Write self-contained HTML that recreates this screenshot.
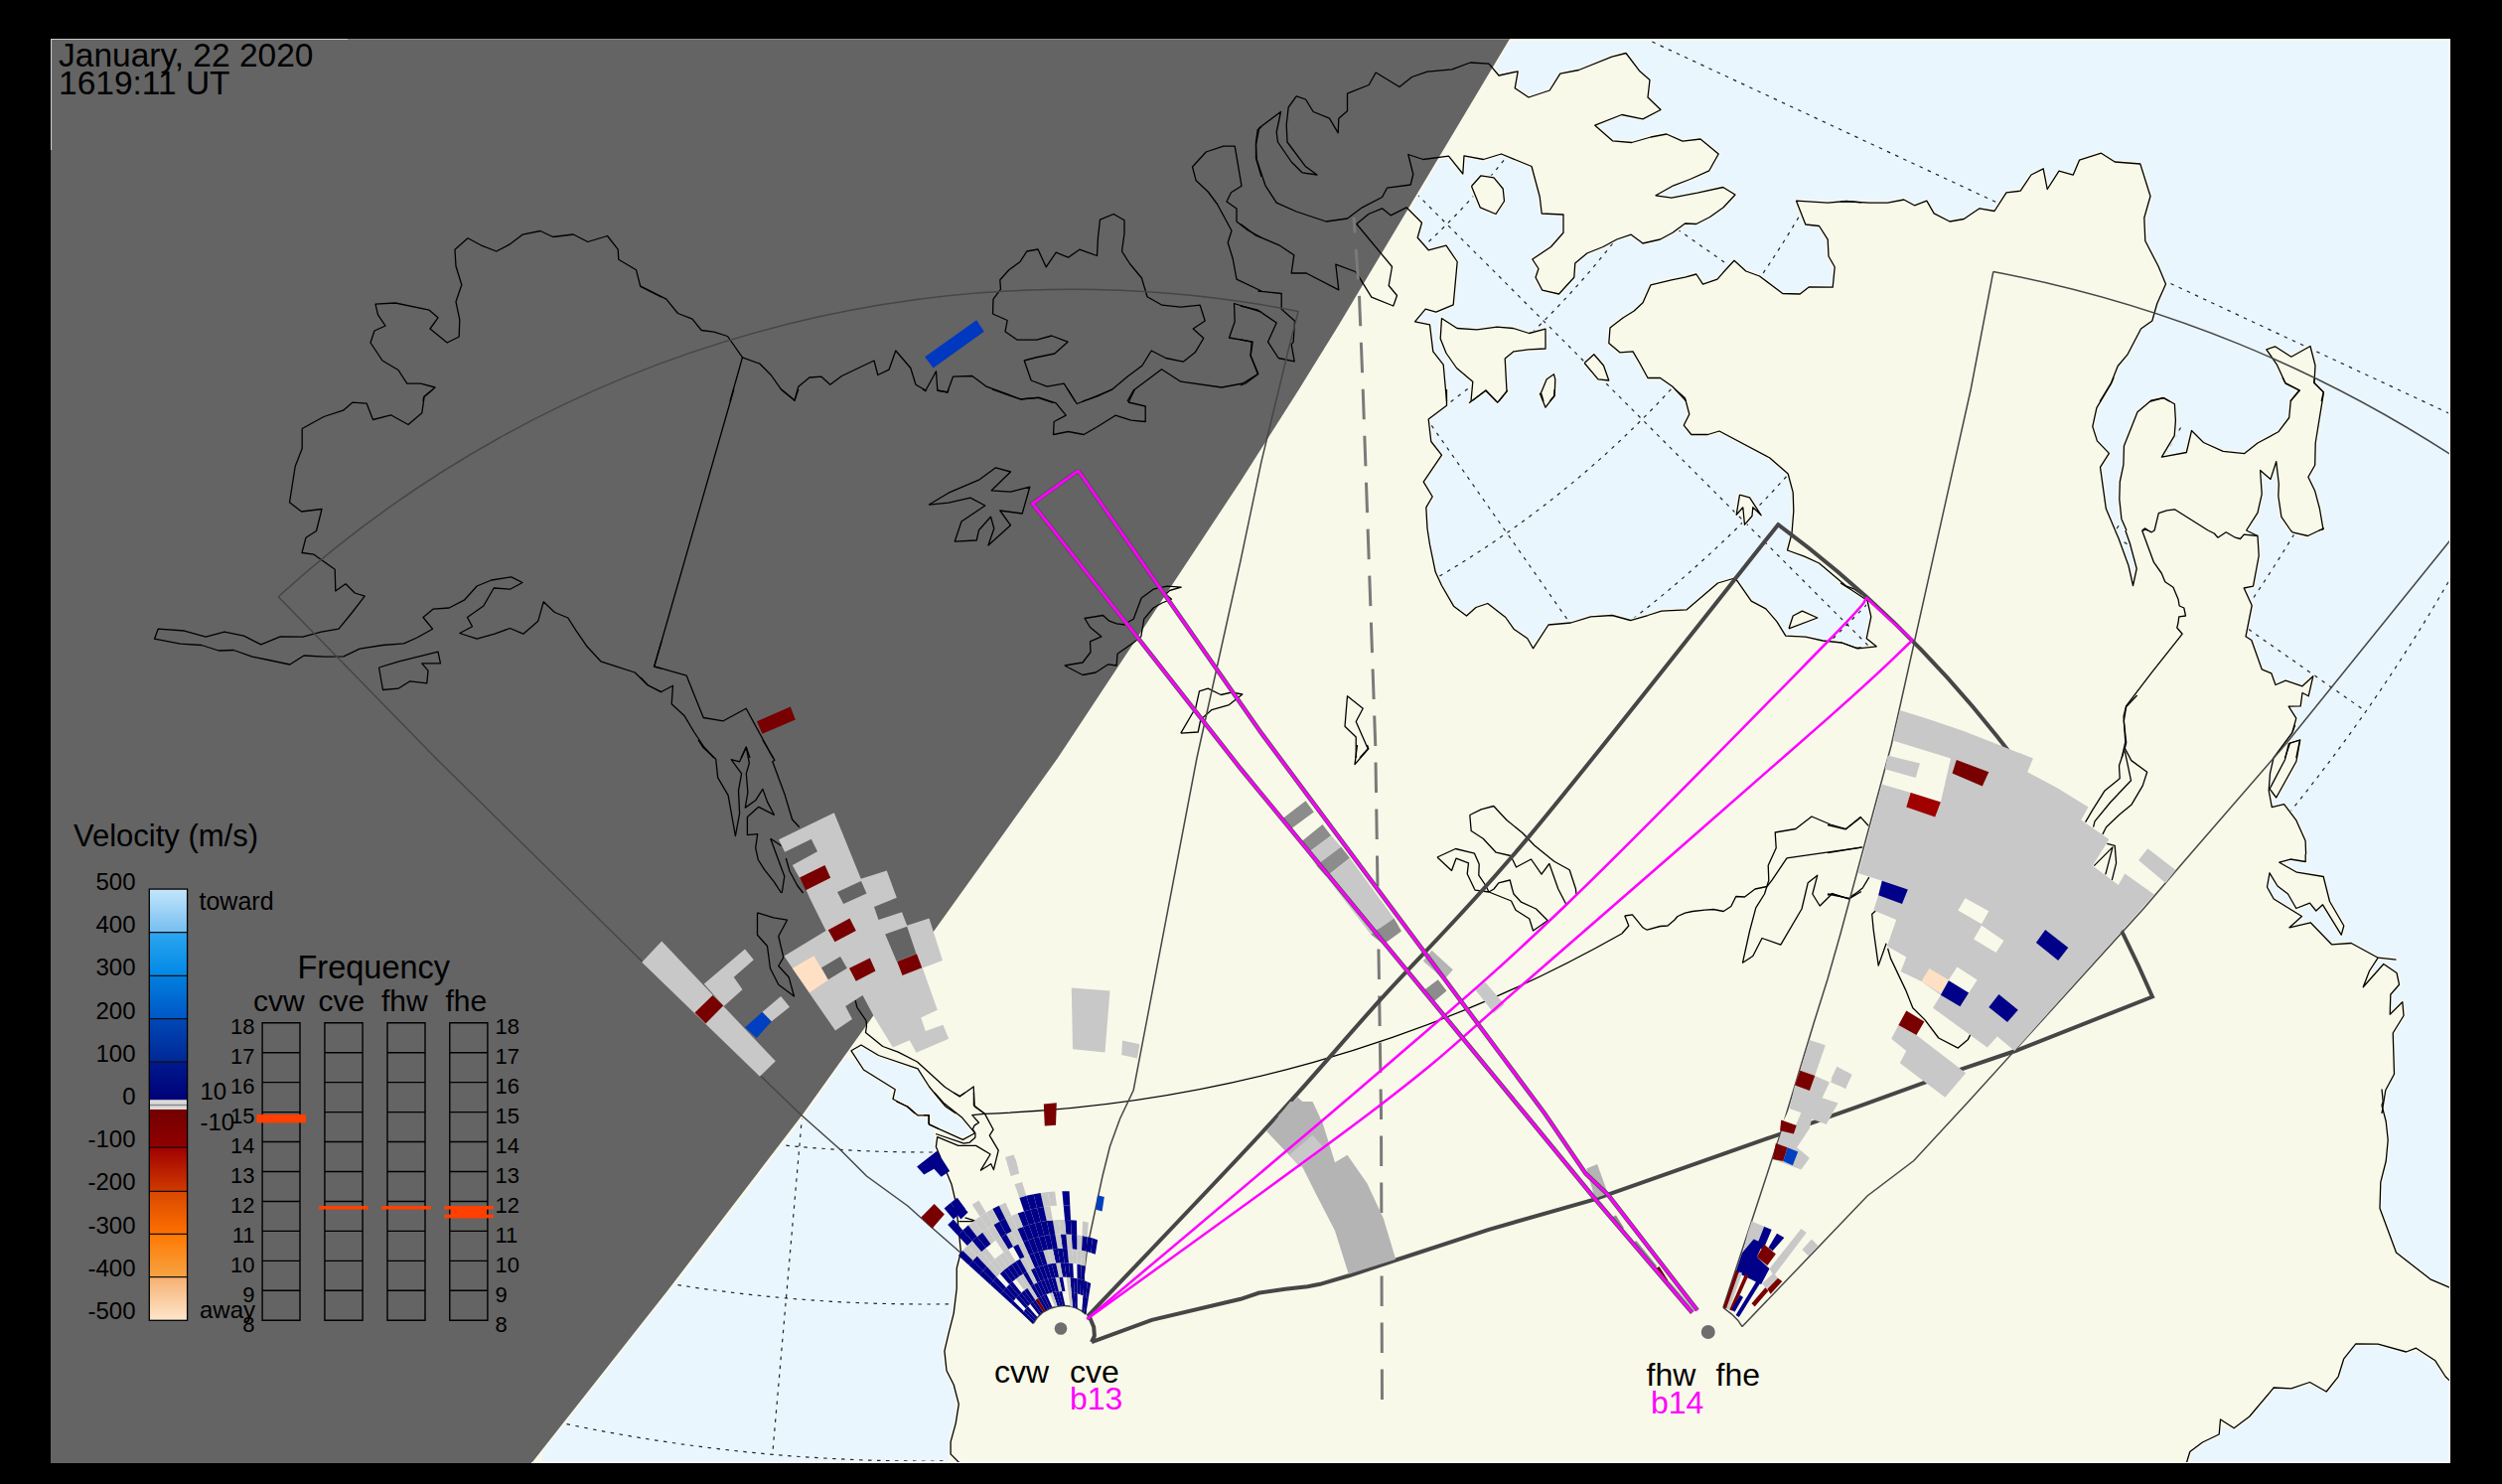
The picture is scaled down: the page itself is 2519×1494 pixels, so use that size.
<!DOCTYPE html><html><head><meta charset="utf-8"><style>html,body{margin:0;padding:0;background:#000;overflow:hidden}svg{display:block}</style></head><body>
<svg xmlns="http://www.w3.org/2000/svg" width="2519" height="1494" viewBox="0 0 2519 1494" font-family="Liberation Sans, sans-serif">
<rect width="2519" height="1494" fill="#000"/>
<defs><clipPath id="mc"><rect x="51" y="39" width="2416" height="1434"/></clipPath></defs>
<g clip-path="url(#mc)">
<rect x="51" y="39" width="2416" height="1434" fill="#f9f9ea"/>
<clipPath id="oc"><path clip-rule="evenodd" d="M2465 1391 2460 1387 2452 1373 2435 1361 2427 1361 2424 1363 2421 1363 2395 1355 2372 1355 2362 1367 2357 1382 2357 1385 2343 1403 2328 1395 2320 1395 2307 1400 2290 1399 2266 1428 2250 1440 2245 1437 2237 1437 2235 1446 2219 1453 2206 1463 2206 1471 2465 1471Z M933 1125 923 1125 912 1115 902 1111 901 1109 899 1109 897 1107 897 1096 869 1079 866 1076 860 1065 851 1065 811 1122 706 1259 546 1462 546 1471 955 1471 955 1450 959 1439 962 1424 962 1407 959 1395 951 1380 949 1358 959 1319 959 1312 961 1303 961 1276 965 1263 965 1254 964 1253 961 1213 957 1199 957 1195 952 1183 947 1182 945 1180 945 1165 941 1157 940 1136 933 1132Z M862 1057 862 1062 871 1076 903 1096 902 1106 916 1113 924 1121 936 1121 938 1123 938 1131 950 1137 952 1137 966 1144 972 1144 976 1142 976 1137 967 1126 950 1115 932 1093 925 1080 922 1077 885 1065 870 1056 863 1056Z M2286 887 2285 888 2285 895 2289 902 2302 911 2307 912 2307 909 2303 902 2293 895 2288 887Z M1521 41 1506 66 1506 70 1509 73 1515 73 1528 70 1530 72 1528 88 1538 95 1543 95 1558 90 1571 72 1589 69 1622 55 1633 52 1638 52 1650 68 1663 80 1661 97 1674 111 1654 122 1638 118 1631 118 1611 126 1611 128 1624 140 1632 140 1633 141 1645 141 1660 136 1676 133 1681 134 1693 140 1713 138 1732 154 1732 156 1723 172 1721 174 1702 183 1699 183 1684 189 1677 193 1676 196 1678 197 1687 197 1731 187 1736 187 1749 195 1749 197 1736 211 1726 217 1722 221 1720 221 1708 228 1707 227 1697 227 1687 235 1672 243 1653 247 1645 240 1639 239 1627 243 1614 251 1598 257 1588 266 1586 281 1570 298 1552 294 1544 280 1546 274 1546 269 1542 264 1541 260 1561 247 1572 234 1572 218 1552 217 1550 215 1548 196 1542 177 1541 170 1539 168 1514 158 1507 158 1494 163 1483 160 1476 160 1475 175 1472 177 1458 160 1450 160 1421 209 1421 211 1434 224 1431 232 1430 240 1438 249 1443 249 1456 245 1469 263 1465 308 1447 316 1435 314 1429 321 1429 323 1438 324 1442 327 1444 351 1445 354 1455 366 1457 390 1459 392 1459 408 1441 422 1441 433 1442 434 1443 445 1454 458 1436 484 1436 487 1444 499 1444 502 1438 511 1438 523 1439 524 1439 535 1446 572 1453 589 1466 610 1474 616 1478 616 1487 609 1492 608 1495 606 1499 606 1517 620 1522 628 1527 633 1538 640 1542 647 1545 647 1558 627 1582 625 1599 619 1605 619 1606 618 1627 618 1639 622 1644 622 1672 613 1698 612 1729 585 1747 580 1752 585 1765 604 1780 612 1791 625 1799 638 1819 639 1834 643 1855 645 1867 650 1881 650 1881 647 1877 643 1881 627 1881 616 1878 605 1852 589 1851 586 1830 568 1798 555 1798 551 1802 539 1803 518 1804 517 1803 494 1799 478 1780 462 1733 437 1727 437 1720 440 1703 440 1693 429 1698 419 1698 413 1696 405 1681 389 1672 383 1659 383 1655 378 1643 356 1630 357 1618 346 1619 329 1633 318 1645 311 1653 303 1653 301 1661 285 1680 280 1695 278 1706 274 1709 274 1715 283 1719 283 1729 279 1746 260 1758 271 1772 276 1795 294 1812 294 1821 287 1843 287 1844 286 1845 269 1839 259 1838 241 1830 229 1818 228 1815 225 1807 205 1807 202 1809 200 1828 201 1829 202 1848 202 1849 201 1903 202 1917 199 1926 204 1930 204 1940 200 1948 213 1963 221 1965 221 1966 220 1977 219 1992 208 2007 210 2019 192 2033 190 2044 174 2046 174 2056 168 2060 172 2062 183 2064 183 2073 170 2081 173 2087 173 2089 166 2093 159 2115 152 2129 161 2148 162 2149 163 2155 163 2157 165 2167 196 2166 203 2161 218 2162 243 2175 267 2177 274 2183 286 2173 307 2169 323 2156 333 2144 358 2134 369 2128 386 2113 411 2109 427 2109 431 2113 443 2126 457 2117 470 2117 477 2118 478 2122 512 2138 549 2140 557 2145 568 2146 575 2149 575 2149 571 2143 548 2138 535 2138 532 2133 520 2132 484 2136 470 2136 450 2150 414 2165 401 2174 399 2180 399 2191 406 2192 423 2193 424 2192 425 2192 435 2191 440 2182 454 2182 457 2200 454 2204 434 2206 432 2219 444 2221 444 2237 452 2249 453 2250 454 2260 454 2272 444 2287 437 2294 432 2303 420 2304 403 2311 395 2311 393 2299 387 2290 366 2283 357 2280 351 2282 349 2291 347 2303 355 2309 356 2324 347 2328 348 2333 366 2332 385 2342 395 2341 396 2341 401 2336 426 2336 432 2333 445 2333 469 2327 479 2327 483 2333 494 2334 501 2336 505 2341 533 2339 535 2328 539 2324 542 2308 538 2304 535 2296 523 2294 517 2293 505 2292 504 2292 481 2291 479 2289 479 2287 484 2285 484 2280 479 2278 479 2279 501 2277 506 2277 510 2274 519 2265 532 2265 534 2267 534 2275 539 2276 563 2272 580 2271 590 2269 592 2263 593 2264 599 2269 608 2269 613 2264 634 2264 640 2269 644 2278 671 2289 677 2292 686 2296 686 2302 683 2315 688 2318 688 2328 679 2331 681 2326 701 2324 703 2319 702 2319 709 2316 713 2309 713 2309 716 2314 724 2311 736 2306 743 2306 745 2310 745 2314 743 2316 743 2318 745 2314 767 2296 800 2292 805 2288 804 2288 808 2289 810 2300 808 2314 825 2323 845 2323 859 2324 860 2323 861 2323 868 2321 870 2315 868 2305 867 2302 868 2302 870 2315 877 2339 880 2341 882 2347 907 2362 931 2360 940 2358 943 2356 943 2340 916 2336 915 2331 919 2325 912 2314 916 2314 918 2318 920 2320 923 2315 927 2315 929 2327 927 2348 949 2351 948 2369 948 2394 962 2413 964 2415 966 2413 968 2395 967 2389 975 2389 978 2391 978 2399 969 2401 969 2415 979 2418 991 2409 1001 2408 1015 2410 1015 2419 1007 2421 1009 2421 1016 2422 1017 2422 1023 2411 1041 2412 1080 2413 1081 2404 1097 2401 1113 2401 1117 2405 1132 2406 1155 2405 1156 2404 1171 2399 1188 2398 1217 2414 1260 2447 1286 2465 1293 2465 41Z M1832 622 1828 625 1815 629 1801 635 1799 633 1803 620 1814 613 1822 616Z M1752 496 1762 499 1775 518 1773 521 1768 516 1766 516 1766 520 1757 530 1754 528 1754 519 1751 518 1748 520 1746 518 1749 499Z M1565 375 1567 377 1568 382 1567 399 1557 412 1555 412 1548 396 1552 390 1555 381Z M1604 355 1606 355 1617 368 1617 371 1622 383 1620 385 1609 384 1593 366Z M1449 321 1451 319 1453 319 1468 329 1489 330 1490 329 1510 327 1511 328 1523 328 1537 333 1543 333 1556 329 1558 331 1558 351 1556 353 1526 355 1517 362 1518 366 1518 384 1520 394 1509 407 1507 407 1497 397 1494 397 1479 408 1477 405 1479 403 1480 398 1480 384 1463 369 1453 354 1448 341Z M1490 175 1505 177 1515 189 1516 202 1517 203 1506 218 1492 212 1488 209 1480 190 1480 186Z"/></clipPath>
<path fill="#eaf6fe" fill-rule="evenodd" d="M2465 1391 2460 1387 2452 1373 2435 1361 2427 1361 2424 1363 2421 1363 2395 1355 2372 1355 2362 1367 2357 1382 2357 1385 2343 1403 2328 1395 2320 1395 2307 1400 2290 1399 2266 1428 2250 1440 2245 1437 2237 1437 2235 1446 2219 1453 2206 1463 2206 1471 2465 1471Z M933 1125 923 1125 912 1115 902 1111 901 1109 899 1109 897 1107 897 1096 869 1079 866 1076 860 1065 851 1065 811 1122 706 1259 546 1462 546 1471 955 1471 955 1450 959 1439 962 1424 962 1407 959 1395 951 1380 949 1358 959 1319 959 1312 961 1303 961 1276 965 1263 965 1254 964 1253 961 1213 957 1199 957 1195 952 1183 947 1182 945 1180 945 1165 941 1157 940 1136 933 1132Z M862 1057 862 1062 871 1076 903 1096 902 1106 916 1113 924 1121 936 1121 938 1123 938 1131 950 1137 952 1137 966 1144 972 1144 976 1142 976 1137 967 1126 950 1115 932 1093 925 1080 922 1077 885 1065 870 1056 863 1056Z M2286 887 2285 888 2285 895 2289 902 2302 911 2307 912 2307 909 2303 902 2293 895 2288 887Z M1521 41 1506 66 1506 70 1509 73 1515 73 1528 70 1530 72 1528 88 1538 95 1543 95 1558 90 1571 72 1589 69 1622 55 1633 52 1638 52 1650 68 1663 80 1661 97 1674 111 1654 122 1638 118 1631 118 1611 126 1611 128 1624 140 1632 140 1633 141 1645 141 1660 136 1676 133 1681 134 1693 140 1713 138 1732 154 1732 156 1723 172 1721 174 1702 183 1699 183 1684 189 1677 193 1676 196 1678 197 1687 197 1731 187 1736 187 1749 195 1749 197 1736 211 1726 217 1722 221 1720 221 1708 228 1707 227 1697 227 1687 235 1672 243 1653 247 1645 240 1639 239 1627 243 1614 251 1598 257 1588 266 1586 281 1570 298 1552 294 1544 280 1546 274 1546 269 1542 264 1541 260 1561 247 1572 234 1572 218 1552 217 1550 215 1548 196 1542 177 1541 170 1539 168 1514 158 1507 158 1494 163 1483 160 1476 160 1475 175 1472 177 1458 160 1450 160 1421 209 1421 211 1434 224 1431 232 1430 240 1438 249 1443 249 1456 245 1469 263 1465 308 1447 316 1435 314 1429 321 1429 323 1438 324 1442 327 1444 351 1445 354 1455 366 1457 390 1459 392 1459 408 1441 422 1441 433 1442 434 1443 445 1454 458 1436 484 1436 487 1444 499 1444 502 1438 511 1438 523 1439 524 1439 535 1446 572 1453 589 1466 610 1474 616 1478 616 1487 609 1492 608 1495 606 1499 606 1517 620 1522 628 1527 633 1538 640 1542 647 1545 647 1558 627 1582 625 1599 619 1605 619 1606 618 1627 618 1639 622 1644 622 1672 613 1698 612 1729 585 1747 580 1752 585 1765 604 1780 612 1791 625 1799 638 1819 639 1834 643 1855 645 1867 650 1881 650 1881 647 1877 643 1881 627 1881 616 1878 605 1852 589 1851 586 1830 568 1798 555 1798 551 1802 539 1803 518 1804 517 1803 494 1799 478 1780 462 1733 437 1727 437 1720 440 1703 440 1693 429 1698 419 1698 413 1696 405 1681 389 1672 383 1659 383 1655 378 1643 356 1630 357 1618 346 1619 329 1633 318 1645 311 1653 303 1653 301 1661 285 1680 280 1695 278 1706 274 1709 274 1715 283 1719 283 1729 279 1746 260 1758 271 1772 276 1795 294 1812 294 1821 287 1843 287 1844 286 1845 269 1839 259 1838 241 1830 229 1818 228 1815 225 1807 205 1807 202 1809 200 1828 201 1829 202 1848 202 1849 201 1903 202 1917 199 1926 204 1930 204 1940 200 1948 213 1963 221 1965 221 1966 220 1977 219 1992 208 2007 210 2019 192 2033 190 2044 174 2046 174 2056 168 2060 172 2062 183 2064 183 2073 170 2081 173 2087 173 2089 166 2093 159 2115 152 2129 161 2148 162 2149 163 2155 163 2157 165 2167 196 2166 203 2161 218 2162 243 2175 267 2177 274 2183 286 2173 307 2169 323 2156 333 2144 358 2134 369 2128 386 2113 411 2109 427 2109 431 2113 443 2126 457 2117 470 2117 477 2118 478 2122 512 2138 549 2140 557 2145 568 2146 575 2149 575 2149 571 2143 548 2138 535 2138 532 2133 520 2132 484 2136 470 2136 450 2150 414 2165 401 2174 399 2180 399 2191 406 2192 423 2193 424 2192 425 2192 435 2191 440 2182 454 2182 457 2200 454 2204 434 2206 432 2219 444 2221 444 2237 452 2249 453 2250 454 2260 454 2272 444 2287 437 2294 432 2303 420 2304 403 2311 395 2311 393 2299 387 2290 366 2283 357 2280 351 2282 349 2291 347 2303 355 2309 356 2324 347 2328 348 2333 366 2332 385 2342 395 2341 396 2341 401 2336 426 2336 432 2333 445 2333 469 2327 479 2327 483 2333 494 2334 501 2336 505 2341 533 2339 535 2328 539 2324 542 2308 538 2304 535 2296 523 2294 517 2293 505 2292 504 2292 481 2291 479 2289 479 2287 484 2285 484 2280 479 2278 479 2279 501 2277 506 2277 510 2274 519 2265 532 2265 534 2267 534 2275 539 2276 563 2272 580 2271 590 2269 592 2263 593 2264 599 2269 608 2269 613 2264 634 2264 640 2269 644 2278 671 2289 677 2292 686 2296 686 2302 683 2315 688 2318 688 2328 679 2331 681 2326 701 2324 703 2319 702 2319 709 2316 713 2309 713 2309 716 2314 724 2311 736 2306 743 2306 745 2310 745 2314 743 2316 743 2318 745 2314 767 2296 800 2292 805 2288 804 2288 808 2289 810 2300 808 2314 825 2323 845 2323 859 2324 860 2323 861 2323 868 2321 870 2315 868 2305 867 2302 868 2302 870 2315 877 2339 880 2341 882 2347 907 2362 931 2360 940 2358 943 2356 943 2340 916 2336 915 2331 919 2325 912 2314 916 2314 918 2318 920 2320 923 2315 927 2315 929 2327 927 2348 949 2351 948 2369 948 2394 962 2413 964 2415 966 2413 968 2395 967 2389 975 2389 978 2391 978 2399 969 2401 969 2415 979 2418 991 2409 1001 2408 1015 2410 1015 2419 1007 2421 1009 2421 1016 2422 1017 2422 1023 2411 1041 2412 1080 2413 1081 2404 1097 2401 1113 2401 1117 2405 1132 2406 1155 2405 1156 2404 1171 2399 1188 2398 1217 2414 1260 2447 1286 2465 1293 2465 41Z M1832 622 1828 625 1815 629 1801 635 1799 633 1803 620 1814 613 1822 616Z M1752 496 1762 499 1775 518 1773 521 1768 516 1766 516 1766 520 1757 530 1754 528 1754 519 1751 518 1748 520 1746 518 1749 499Z M1565 375 1567 377 1568 382 1567 399 1557 412 1555 412 1548 396 1552 390 1555 381Z M1604 355 1606 355 1617 368 1617 371 1622 383 1620 385 1609 384 1593 366Z M1449 321 1451 319 1453 319 1468 329 1489 330 1490 329 1510 327 1511 328 1523 328 1537 333 1543 333 1556 329 1558 331 1558 351 1556 353 1526 355 1517 362 1518 366 1518 384 1520 394 1509 407 1507 407 1497 397 1494 397 1479 408 1477 405 1479 403 1480 398 1480 384 1463 369 1453 354 1448 341Z M1490 175 1505 177 1515 189 1516 202 1517 203 1506 218 1492 212 1488 209 1480 190 1480 186Z"/>
<path clip-path="url(#oc)" fill="none" stroke="#222" stroke-width="1.2" stroke-dasharray="3.5 5.5" d="M1574.6 72.0 A742 742 0 0 1 455.1 269.4 M1694.1 141.0 A880 880 0 0 1 366.3 375.1 M1815.3 211.0 A1020 1020 0 0 1 276.4 482.4 M1940.9 283.5 A1165 1165 0 0 1 183.2 593.4 M2068.2 357.0 A1312 1312 0 0 1 88.7 706.1 M2195.5 430.5 A1459 1459 0 0 1 -5.8 818.7 M2328.0 507.0 A1612 1612 0 0 1 -104.2 935.9 M2464.9 586.0 A1770 1770 0 0 1 -205.7 1056.9 M1475.8 -45.4 L2536.2 449.0 M1423.5 45.1 L2381.9 716.2 M1356.3 125.3 L2183.6 952.6 M1276.1 192.5 L1947.2 1150.9 M1185.6 244.8 L1680.0 1305.2 M1087.3 280.6 L1390.1 1410.7 M984.3 298.7 L1086.3 1464.3 M879.7 298.7 L777.7 1464.3 M776.7 280.6 L473.9 1410.7 M678.4 244.8 L184.0 1305.2"/>
<path d="M51.0 39.0 L1520.0 39.0 L1348.0 327.0 L1307.8 392.0 L1249.0 484.5 L1065.0 763.0 L808.8 1121.0 L671.6 1300.0 L535.2 1473.0 L51.0 1473.0 Z" fill="#646464"/>
<g fill="none" stroke="#000" stroke-width="1.3" stroke-linejoin="round">
<path d="M426.0 404.0 L426.5 400.0 L438.0 390.0 L423.5 386.2 L409.8 386.2 L401.0 372.5 L385.0 363.0 L373.0 345.0 L377.0 333.0 L388.0 328.0 L380.5 316.8 L378.0 306.2 L398.0 305.0 L432.2 312.2 L441.0 319.8 L433.0 331.0 L450.2 345.0 L462.2 339.0 L462.8 321.8 L459.0 303.8 L464.8 286.8 L459.0 268.0 L458.0 251.2 L471.0 239.8 L484.0 246.8 L499.8 253.0 L512.8 246.2 L526.0 236.2 L544.0 232.5 L556.8 238.5 L577.2 236.0 L591.8 243.5 L611.5 237.5 L622.2 251.2 L622.8 261.2 L640.5 271.8 L644.8 288.5 L666.0 299.2"/>
<path d="M436.0 392.0 L427.2 399.0 L424.8 415.8 L411.0 427.5 L393.5 417.8 L375.5 422.5 L369.2 406.2 L354.8 405.2 L345.5 413.2 L326.0 419.5 L304.2 431.5 L304.2 451.5 L297.2 469.5 L291.5 505.8 L303.5 515.0 L324.0 512.5 L318.5 534.5 L308.0 541.2 L304.0 556.5 L316.0 558.2 L337.2 573.2 L337.8 595.0 L348.0 587.8 L357.2 597.0 L367.2 600.2 L354.2 617.0 L341.0 633.2 L323.5 636.2 L304.8 641.2 L282.2 640.8 L262.8 648.8 L245.5 640.2 L226.0 636.2 L207.2 641.2 L185.5 635.0 L159.2 633.2 L155.5 643.2 L181.5 648.2 L203.0 649.5 L220.2 655.0 L235.2 654.5 L254.0 661.2 L270.5 664.5 L291.8 669.0 L306.0 660.0 L326.8 661.2 L346.0 660.8 L362.2 653.2 L385.2 649.5 L406.5 647.8 L419.8 642.0 L435.5 633.2 L426.0 621.5 L436.0 613.2 L452.2 612.0 L467.8 603.8 L480.2 590.0 L494.8 584.0 L514.8 580.8 L526.0 586.5 L513.5 593.2 L497.2 592.0 L486.8 610.0 L470.5 621.5 L475.5 630.8 L462.8 637.5 L480.2 643.2 L498.0 638.2 L513.5 632.5 L526.8 638.2 L541.8 625.2 L547.2 605.8 L558.5 616.5 L571.8 622.0 L580.2 635.2 L591.0 650.8 L604.8 665.8 L621.0 671.2 L639.2 677.0 L651.8 689.5 L666.0 697.0"/>
<path d="M381.5 672.0 L401.8 665.8 L441.0 656.2 L443.5 667.8 L424.8 667.8 L431.0 675.2 L429.8 687.8 L412.8 685.8 L401.0 693.2 L385.5 694.5 L381.5 672.0"/>
<path d="M666.0 645.8 L658.5 671.2 L666.0 673.2"/>
<path d="M645.0 288.0 L670.8 301.2 L682.5 315.5 L697.0 321.2 L706.2 332.5 L718.8 334.2 L732.5 338.5 L747.5 359.8 L765.0 366.2 L776.2 377.5 L785.8 391.2 L800.0 403.0 L803.8 389.2 L815.0 380.0 L827.0 379.2 L835.8 387.2 L847.5 378.5 L880.0 363.0 L883.8 377.5 L895.0 372.2 L901.8 353.0 L916.8 370.5 L922.0 387.2 L932.0 393.0 L942.5 373.8 L943.8 393.0 L953.8 394.8 L959.5 379.2 L978.8 378.5 L993.2 389.2 L1027.5 401.8 L1045.0 400.5 L1060.0 405.5"/>
<path d="M747.5 359.8 L735.0 404.0"/>
<path d="M1082.5 404.0 L1071.2 386.2 L1054.2 389.2 L1038.2 383.0 L1031.2 363.0 L1042.5 360.0 L1061.8 356.0 L1075.0 344.2 L1058.8 338.0 L1043.8 342.2 L1024.2 342.2 L1012.0 333.8 L1014.2 322.5 L999.5 316.0 L1000.0 301.2 L1007.5 291.2 L1006.8 281.8 L1015.8 271.8 L1026.8 263.8 L1033.8 253.0 L1045.0 251.0 L1053.2 268.8 L1063.2 254.2 L1075.5 259.2 L1086.8 251.2 L1104.5 257.5 L1105.5 238.8 L1107.5 221.2 L1121.2 215.5 L1132.0 221.8 L1132.0 235.0 L1129.5 253.0 L1137.5 265.5 L1149.5 280.0 L1155.0 298.8 L1170.0 307.2 L1188.8 309.2 L1208.2 307.2 L1213.2 323.0 L1201.2 331.0 L1211.8 340.5 L1203.2 354.8 L1191.2 364.2 L1173.8 360.5 L1159.2 353.0 L1150.0 368.0 L1135.0 379.2 L1119.5 392.2 L1105.0 398.8 L1090.0 404.0"/>
<path d="M1135.0 404.0 L1141.2 393.0 L1169.5 371.8 L1188.8 384.2 L1230.0 390.0 L1251.2 386.0 L1266.8 376.2 L1259.2 358.0 L1261.2 344.2 L1237.5 340.0 L1243.2 323.8 L1242.5 305.5 L1270.0 314.2"/>
<path d="M1270.0 293.0 L1245.0 281.2 L1241.2 260.5 L1236.2 244.2 L1240.0 232.2 L1225.5 205.5 L1216.2 193.0 L1204.2 181.8 L1200.5 168.0 L1214.2 153.0 L1231.8 147.2 L1243.2 147.2 L1250.0 187.2 L1239.5 193.8 L1235.0 203.0 L1245.0 210.0 L1245.0 223.0 L1256.2 231.8 L1270.0 239.2"/>
<path d="M1270.0 128.0 L1266.2 130.5 L1264.5 143.0 L1264.5 159.2 L1270.0 178.0"/>
<path d="M738.8 392.0 L658.8 670.8 L691.2 680.2 L708.2 722.5 L728.2 725.8 L751.2 713.2 L778.2 763.0"/>
<path d="M746.2 763.0 L751.2 752.0 L755.0 763.0"/>
<path d="M645.0 682.0 L652.5 690.0 L665.8 696.5 L677.5 690.2 L676.2 708.8 L689.2 720.8 L698.8 737.0 L708.8 752.0 L718.8 763.0"/>
<path d="M786.2 392.0 L800.0 403.2 L803.8 392.0"/>
<path d="M928.8 392.0 L932.5 394.0"/>
<path d="M943.8 393.2 L954.2 395.0 L955.0 392.0"/>
<path d="M998.8 392.0 L1027.5 402.0 L1045.8 400.2 L1063.2 405.8 L1073.2 418.2 L1061.2 424.5 L1060.5 437.5 L1075.5 434.5 L1091.2 437.5 L1105.0 429.5 L1123.0 418.2 L1138.8 423.2 L1153.2 424.5 L1153.2 409.0 L1136.2 405.0 L1142.5 392.0"/>
<path d="M1075.0 392.0 L1084.2 406.5 L1098.8 400.8 L1120.0 392.0"/>
<path d="M935.0 508.2 L955.0 496.2 L985.5 483.2 L1002.5 470.8 L1017.5 475.0 L998.2 493.8 L1017.5 495.2 L1036.8 490.2 L1029.2 517.0 L1006.8 514.0 L1017.5 528.8 L995.0 549.0 L1000.8 532.0 L997.5 520.2 L985.5 533.8 L983.2 544.0 L961.2 545.2 L968.0 525.0 L991.8 509.0 L977.0 501.2 L955.0 506.2 L935.0 508.2"/>
<path d="M1071.8 670.0 L1090.0 679.5 L1103.2 677.0 L1115.8 668.8 L1124.2 670.0 L1125.0 658.2 L1141.2 647.0 L1148.8 640.8 L1151.8 623.2 L1161.2 612.0 L1170.0 607.0 L1179.5 603.2 L1173.8 598.2 L1177.5 594.5 L1189.2 591.2 L1175.0 590.2 L1161.2 593.2 L1149.2 602.0 L1141.2 623.2 L1135.8 626.2 L1133.2 629.0 L1124.2 627.8 L1116.8 625.2 L1110.5 619.5 L1092.0 622.5 L1097.5 631.5 L1108.8 640.8 L1097.5 645.8 L1098.0 656.5 L1090.0 667.0 L1071.8 670.0"/>
<path d="M1188.8 738.2 L1206.2 737.0 L1208.8 724.5 L1220.0 714.5 L1237.5 709.5 L1250.8 699.0 L1240.0 697.0 L1229.2 699.5 L1216.2 693.2 L1207.5 695.8 L1203.8 712.5 L1188.8 738.2"/>
<path d="M762.5 918.8 L778.8 923.8 L792.5 926.2 L783.8 942.5 L788.8 963.8 L783.8 972.5 L794.2 983.8 L799.5 1003.0 L783.8 991.2 L775.5 975.0 L772.5 952.5 L762.5 941.2 L762.5 918.8"/>
<path d="M861.2 1007.2 L862.8 1014.0 L872.0 1027.5 L872.5 1032.8 L871.5 1039.5 L888.8 1053.5 L904.2 1059.2 L923.5 1069.0 L951.5 1094.5 L966.2 1104.0 L980.2 1094.0 L981.2 1114.0 L991.2 1121.0"/>
<path d="M834.2 970.5 L840.5 982.2"/>
<path d="M952.0 1114.0 L948.5 1109.8 L935.5 1094.0 L924.0 1075.8 L884.5 1062.5 L867.0 1052.0 L857.0 1057.8 L869.5 1077.0 L901.2 1096.8 L899.0 1106.5 L913.2 1114.0 L921.2 1121.0"/>
<path d="M962.5 1121.0 L952.0 1114.0"/>
<path d="M703.0 745.0 L708.2 752.8 L720.7 764.2 L722.7 782.9 L733.1 800.6 L740.4 841.6 L744.6 818.8 L743.5 795.9 L746.6 778.8 L736.2 764.7 L744.6 766.8 L751.3 752.3 L754.4 768.4 L751.3 778.8 L752.9 797.5 L750.3 813.1 L760.7 805.8 L767.9 794.4 L772.6 807.4 L779.4 820.3 L763.8 812.3 L752.4 822.4 L752.4 840.6 L762.7 839.6 L760.7 853.6 L763.3 865.5 L769.5 875.4 L779.4 887.9 L786.6 899.0"/>
<path d="M767.9 745.0 L779.9 765.3 L777.8 766.8 L790.3 800.6 L797.6 825.0 L804.8 832.8"/>
<path d="M775.7 844.2 L786.6 851.5"/>
<path d="M791.3 864.0 L795.0 877.0 L802.8 891.5 L808.5 899.0"/>
<path d="M775.7 844.2 L789.8 882.2 L787.2 899.0"/>
<path d="M940.8 1100.0 L949.9 1110.2 L968.8 1125.3 L980.9 1139.9 L981.2 1141.0 L969.4 1147.4 L935.4 1132.1 L935.4 1122.6 L930.0 1122.6"/>
<path d="M980.4 1100.0 L980.4 1112.7 L991.7 1121.6 L1000.1 1137.2 L996.3 1143.1 L1005.2 1158.2 L1000.4 1177.6 L997.7 1171.7 L987.4 1178.2 L997.1 1162.0 L982.6 1153.4 L964.8 1153.4 L943.7 1144.7 L942.4 1154.4 L946.7 1164.7 L947.8 1180.0"/>
<path d="M942.1 1141.5 L970.4 1151.2 L976.4 1150.1 L981.8 1145.3 L982.0 1141.0 L979.3 1136.7 L981.2 1132.9 L985.5 1130.2 L978.8 1122.6 L990.6 1121.3"/>
<path d="M960.2 1100.0 L966.4 1103.5 L971.5 1100.0"/>
<path d="M946.8 1180.3 L953.0 1180.3 L958.1 1192.6 L962.2 1210.1 L964.3 1229.6 L967.4 1260.4 L963.2 1276.9 L963.2 1297.4 L960.2 1322.1 L955.0 1342.7 L950.9 1360.1 L953.0 1379.7 L960.2 1394.0 L965.3 1413.6 L962.2 1433.1 L957.1 1451.6 L957.1 1463.9 L966.3 1473.2 L970.4 1478.3"/>
<path d="M965.3 1229.6 L983.8 1229.6 L971.5 1225.9"/>
<path d="M902.5 1109.0 L913.8 1114.0 L923.8 1122.8 L935.0 1122.8 L935.0 1131.5 L945.0 1136.5"/>
<path d="M1499.0 64.2 L1509.0 76.0 L1528.2 71.8 L1525.2 88.8 L1539.0 98.0 L1560.2 91.0 L1570.8 74.2 L1589.5 70.5 L1622.8 57.2 L1637.0 53.5 L1651.0 71.8 L1661.0 80.5 L1659.0 98.0 L1672.0 110.5 L1654.0 119.8 L1632.8 115.5 L1605.8 126.2 L1623.5 141.8 L1642.8 143.5 L1662.0 138.0 L1677.8 135.0 L1694.0 142.2 L1712.0 140.0 L1730.2 155.0 L1720.8 171.8 L1701.5 180.5 L1684.8 186.8 L1667.0 196.8 L1682.8 199.2 L1709.0 194.2 L1734.8 188.5 L1747.0 196.0 L1735.2 208.8 L1721.5 218.5 L1707.8 225.5 L1696.5 225.0 L1684.0 234.2 L1671.5 241.0 L1654.0 245.0 L1642.2 236.2 L1627.8 241.0 L1614.0 248.5 L1597.8 255.0 L1585.8 265.0 L1584.8 279.2 L1569.5 296.0 L1552.8 292.2 L1546.0 279.2 L1549.0 270.5 L1542.8 261.0 L1561.5 248.5 L1574.0 234.2 L1574.0 216.0 L1552.2 215.0 L1550.2 198.0 L1542.0 167.5 L1511.5 155.0 L1493.5 160.5 L1474.0 156.8 L1472.8 175.0 L1458.5 157.2 L1432.8 160.5 L1417.8 155.5 L1422.8 175.5 L1420.2 186.0 L1396.5 189.2 L1391.5 198.5 L1371.5 208.8 L1356.5 220.0 L1335.2 223.0 L1305.2 213.0 L1285.2 204.2 L1274.0 186.8 L1265.2 160.5 L1264.5 145.5 L1267.8 128.8 L1289.5 112.5 L1285.2 133.0 L1286.5 143.0 L1300.2 163.0 L1311.0 173.8 L1326.0 176.0 L1314.0 167.2 L1296.0 143.0 L1295.2 125.5 L1297.2 108.0 L1305.2 96.8 L1314.5 100.0 L1322.2 112.5 L1338.5 119.2 L1347.2 133.8 L1347.8 119.2 L1356.5 111.8 L1356.5 94.2 L1378.2 85.5 L1385.2 73.0 L1409.0 87.5 L1421.5 77.5 L1437.0 72.2 L1462.0 69.8 L1480.2 63.0 L1499.0 64.2"/>
<path d="M1481.5 187.5 L1491.0 176.8 L1504.0 178.8 L1513.2 190.0 L1514.5 202.5 L1506.0 215.5 L1490.2 208.8 L1481.5 187.5"/>
<path d="M1249.0 225.5 L1264.0 236.8 L1287.8 246.8 L1302.8 256.8 L1300.2 275.0 L1315.2 275.0 L1347.8 291.8 L1344.8 266.2 L1364.5 273.5 L1368.5 279.2 L1380.8 299.2 L1402.8 308.0 L1406.5 297.5 L1398.2 287.5 L1401.5 268.5 L1365.8 225.5 L1377.8 215.5 L1391.5 209.8 L1400.2 216.8 L1416.0 208.8 L1431.5 224.2 L1427.2 239.2 L1438.2 251.8 L1456.0 247.2 L1467.2 263.5 L1463.2 306.8 L1445.8 314.2 L1435.2 311.2 L1424.5 323.8 L1439.5 326.8 L1442.8 353.8 L1453.2 367.2 L1456.5 404.0"/>
<path d="M1509.0 404.0 L1517.0 393.8 L1515.2 361.0 L1524.0 353.8 L1539.0 351.8 L1556.0 351.0 L1556.0 331.2 L1539.5 335.5 L1523.5 330.5 L1507.2 329.2 L1487.0 331.8 L1467.0 330.5 L1451.5 320.5 L1450.2 341.0 L1456.0 355.5 L1466.5 370.5 L1482.8 384.2 L1481.0 404.0"/>
<path d="M1482.8 403.0 L1496.0 393.0 L1506.5 404.0"/>
<path d="M1595.2 365.5 L1604.8 356.8 L1614.5 368.0 L1619.8 383.0 L1609.0 381.8 L1595.2 365.5"/>
<path d="M1554.0 404.0 L1551.5 395.5 L1557.2 381.8 L1564.5 376.8 L1565.8 381.8 L1565.2 398.5 L1560.2 404.0"/>
<path d="M1874.0 203.8 L1859.0 202.5 L1840.2 204.2 L1808.5 202.2 L1817.8 226.0 L1831.5 227.5 L1840.2 241.2 L1841.0 258.0 L1847.2 268.8 L1845.2 289.2 L1821.5 288.8 L1812.2 296.0 L1794.8 295.5 L1771.5 278.0 L1757.8 273.0 L1746.0 262.2 L1734.5 274.8 L1729.0 281.2 L1714.5 286.2 L1707.8 276.0 L1696.5 279.2 L1682.8 281.8 L1662.0 286.8 L1654.0 304.8 L1645.2 313.0 L1634.0 320.0 L1621.0 330.0 L1619.8 345.5 L1630.8 354.8 L1644.0 353.8 L1650.8 365.5 L1659.0 380.5 L1671.5 380.5 L1684.0 389.2 L1697.8 404.0"/>
<path d="M1266.5 293.0 L1290.2 295.5 L1290.2 311.2 L1303.5 323.0 L1302.2 344.2 L1300.2 346.8 L1303.2 363.8 L1287.2 360.5 L1276.5 344.2 L1285.2 325.0 L1266.5 312.2 L1249.0 308.0"/>
<path d="M1249.0 341.8 L1260.2 344.2 L1259.0 358.0 L1266.5 376.8 L1254.0 386.0 L1249.0 388.0"/>
<path d="M1456.5 392.0 L1456.5 408.2 L1438.2 422.0 L1440.8 444.5 L1451.5 458.2 L1433.2 485.2 L1442.2 500.0 L1435.8 510.8 L1437.0 532.0 L1439.5 548.2 L1445.2 575.8 L1451.5 589.5 L1463.5 610.2 L1476.5 620.0 L1486.0 611.5 L1497.8 607.5 L1515.8 621.5 L1524.0 633.2 L1537.8 642.8 L1543.5 652.8 L1559.0 629.0 L1581.5 627.0 L1601.5 620.8 L1623.2 619.5 L1641.5 624.5 L1659.0 619.5 L1672.8 615.2 L1698.2 613.8 L1729.5 587.0 L1746.5 582.0 L1749.8 585.8 L1763.2 605.2 L1777.8 612.8 L1789.0 625.8 L1797.8 640.2 L1817.8 641.2 L1835.2 645.0 L1854.0 647.0 L1869.0 652.5 L1874.0 652.0"/>
<path d="M1686.5 392.0 L1696.5 400.8 L1700.8 417.0 L1695.2 428.2 L1702.8 437.5 L1719.5 437.5 L1731.0 434.0 L1781.5 460.8 L1800.2 477.0 L1805.2 495.8 L1805.8 514.5 L1804.0 537.0 L1799.5 554.0 L1816.5 560.2 L1831.5 567.0 L1859.0 590.2 L1866.5 592.8 L1874.0 598.2"/>
<path d="M1479.0 405.8 L1495.8 393.2 L1507.8 405.2 L1517.8 393.2"/>
<path d="M1550.2 395.8 L1556.0 410.2 L1564.5 399.0 L1565.2 392.0"/>
<path d="M1751.5 498.2 L1761.5 500.8 L1773.2 518.8 L1764.8 510.8 L1764.0 519.5 L1756.5 528.2 L1754.8 510.8 L1748.2 518.2 L1751.5 498.2"/>
<path d="M1801.0 632.8 L1805.2 620.0 L1814.5 615.2 L1829.8 622.0 L1801.0 632.8"/>
<path d="M1369.0 763.0 L1377.2 753.8 L1365.2 726.5 L1372.2 713.2 L1356.5 700.8 L1354.0 731.2 L1365.2 742.0 L1365.2 763.0"/>
<path d="M1366.5 750.0 L1364.0 769.5 L1377.8 753.8 L1376.5 750.0"/>
<path d="M1447.0 863.0 L1465.5 854.5 L1484.5 859.2 L1489.2 870.0 L1488.8 881.2 L1495.8 891.5 L1499.0 898.0 L1521.5 907.0 L1526.0 916.2 L1539.8 925.0 L1543.5 937.0 L1558.2 926.8 L1546.5 915.0 L1531.5 908.2 L1524.0 900.0 L1522.5 895.0 L1520.2 886.0 L1508.8 888.8 L1504.0 895.0 L1499.0 898.0 L1485.2 896.2 L1484.5 895.0 L1477.2 879.8 L1478.5 868.8 L1466.0 864.2 L1461.5 876.5 L1447.0 863.0"/>
<path d="M1479.8 820.5 L1491.2 814.8 L1503.8 811.5 L1516.8 825.5 L1532.8 838.5 L1545.0 851.2 L1564.8 867.2 L1580.2 875.8 L1586.5 895.0 L1587.0 900.8 L1577.0 910.8 L1568.8 895.0 L1559.8 869.5 L1552.0 880.2 L1541.5 865.0 L1526.5 873.0 L1523.2 866.0 L1520.8 861.5 L1506.2 858.2 L1493.2 844.2 L1481.2 836.5 L1479.8 820.5"/>
<path d="M1635.8 922.0 L1643.5 920.8 L1654.0 933.8 L1658.2 936.2 L1671.5 932.5 L1679.0 932.0 L1685.8 926.2 L1689.0 922.5 L1696.5 919.2 L1704.0 917.5 L1716.5 916.2 L1725.2 915.5 L1735.2 917.5 L1742.8 912.5 L1747.8 902.5 L1756.5 903.0 L1767.0 895.0 L1779.0 892.5 L1784.0 886.2 L1799.0 863.8 L1874.0 853.2"/>
<path d="M1632.8 940.0 L1639.8 932.0 L1635.8 922.0"/>
<path d="M1874.0 822.5 L1858.5 834.5 L1842.8 830.0 L1824.0 822.0 L1807.8 834.5 L1787.2 838.0 L1788.2 853.8 L1780.2 871.2 L1780.8 886.2 L1776.5 900.0 L1767.8 913.8 L1761.5 937.5 L1754.5 969.2 L1764.8 962.5 L1774.0 944.5 L1792.8 951.2 L1814.0 915.0 L1820.2 888.8 L1829.8 881.2 L1824.8 900.0 L1832.2 912.0 L1844.8 899.5 L1861.5 905.0 L1874.0 897.5"/>
<path d="M1853.0 203.0 L1863.0 203.0 L1881.8 204.2 L1900.5 204.2 L1916.8 201.0 L1927.5 206.8 L1939.8 202.2 L1947.2 214.8 L1963.0 223.0 L1977.2 220.5 L1993.0 209.8 L2008.0 212.5 L2020.0 193.8 L2034.2 192.2 L2045.0 176.0 L2057.2 169.8 L2061.2 190.5 L2073.0 172.2 L2087.2 176.2 L2093.5 161.2 L2115.5 154.2 L2129.2 163.0 L2154.8 165.0 L2165.0 197.5 L2158.8 219.2 L2159.8 242.5 L2173.0 268.0 L2180.5 286.0 L2171.8 305.5 L2166.8 323.0 L2155.5 331.0 L2141.8 357.2 L2132.2 368.5 L2125.5 385.5 L2114.2 404.0"/>
<path d="M2165.0 404.0 L2178.0 400.5 L2184.2 404.0"/>
<path d="M2337.2 404.0 L2339.2 394.8 L2330.0 385.5 L2331.0 368.0 L2326.0 348.5 L2306.8 359.2 L2290.5 348.8 L2281.8 351.8 L2292.2 366.8 L2301.2 386.2 L2314.8 393.0 L2306.0 404.0"/>
<path d="M2129.5 534.0 L2133.0 542.0 L2143.0 569.5 L2147.5 589.5 L2151.2 572.5 L2144.2 546.5 L2139.8 534.0"/>
<path d="M2169.2 534.0 L2166.2 535.8 L2160.5 532.8 L2156.8 534.5 L2168.5 566.2 L2176.2 577.0 L2179.8 585.8 L2188.0 591.2 L2193.0 603.2 L2194.2 610.0 L2198.8 612.0 L2200.5 620.0 L2193.8 620.8 L2193.0 627.0 L2191.8 632.0 L2197.2 638.2 L2165.5 678.2 L2140.5 710.8 L2138.0 721.5 L2139.8 747.0 L2136.2 763.0"/>
<path d="M2223.2 534.0 L2229.2 537.0 L2233.0 541.2 L2241.2 535.8 L2250.5 541.2 L2255.5 542.5 L2259.2 538.2 L2273.0 539.5 L2274.2 559.5 L2268.5 590.2 L2259.2 592.0 L2267.2 609.5 L2261.0 640.8 L2266.8 644.5 L2277.2 673.8 L2286.8 677.8 L2291.0 689.5 L2301.2 685.2 L2318.0 690.8 L2328.8 680.8 L2324.2 700.8 L2318.0 697.5 L2316.2 710.8 L2304.2 711.2 L2311.8 723.2 L2308.0 737.0"/>
<path d="M2261.5 534.0 L2273.0 539.5"/>
<path d="M2306.2 534.0 L2308.0 535.8 L2323.5 539.5 L2339.2 532.0 L2339.0 532.8"/>
<path d="M1853.0 587.0 L1864.2 594.0 L1880.0 604.5 L1883.8 620.8 L1879.2 642.8 L1889.2 650.8 L1870.5 652.8 L1853.0 646.5"/>
<path d="M2300.5 763.0 L2305.5 748.2 L2315.5 745.0 L2311.8 763.0"/>
<path d="M2128.1 380.0 L2125.5 386.2 L2110.9 410.7 L2106.8 429.4 L2111.4 443.9 L2123.4 456.4 L2114.5 470.4 L2120.3 512.0 L2129.6 534.0"/>
<path d="M2141.0 534.0 L2135.9 522.4 L2133.8 502.6 L2134.3 485.0 L2137.9 467.8 L2138.4 449.1 L2152.0 414.8 L2166.0 403.1 L2178.5 400.6 L2189.4 406.8 L2190.4 423.6 L2189.2 438.7 L2176.4 460.2 L2201.3 455.5 L2206.5 433.5 L2218.5 445.5 L2238.2 454.3 L2259.7 456.6 L2273.0 446.0 L2293.8 434.8 L2304.7 420.5 L2306.3 403.4 L2315.4 393.0 L2300.9 385.7 L2298.0 380.0"/>
<path d="M2330.2 380.0 L2329.7 385.2 L2339.5 394.9 L2331.2 446.0 L2330.7 468.3 L2323.9 480.3 L2330.7 494.3 L2335.4 512.0 L2339.0 532.8 L2334.9 534.0"/>
<path d="M2261.6 534.0 L2273.0 516.1 L2277.2 497.4 L2275.6 473.5 L2286.0 482.4 L2291.7 464.7 L2294.3 487.0 L2293.8 499.5 L2296.9 520.3 L2306.3 534.0"/>
<path d="M2169.1 534.0 L2173.3 516.7 L2181.6 513.8 L2189.4 512.8 L2223.1 534.0"/>
<path d="M2156.6 534.0 L2159.8 531.9 L2162.4 534.0"/>
<path d="M2151.6 700.0 L2140.7 711.5 L2138.3 726.0 L2140.7 747.6 L2139.3 753.4 L2145.8 765.6 L2161.7 777.2 L2157.3 790.9 L2145.8 810.3 L2134.2 819.7 L2120.5 832.7 L2116.9 839.9"/>
<path d="M2139.3 753.4 L2133.5 770.7 L2134.2 783.7 L2119.1 795.9 L2106.8 815.4 L2099.6 827.7"/>
<path d="M2139.3 756.3 L2145.5 785.8 L2124.9 807.5 L2109.0 826.9 L2107.6 832.7"/>
<path d="M2121.3 849.3 L2126.3 850.7 L2129.2 851.4 L2130.6 868.8 L2126.3 886.1"/>
<path d="M2108.3 871.6 L2127.0 852.9 L2119.8 880.3"/>
<path d="M1840.0 830.5 L1858.0 834.9 L1873.2 822.6 L1881.1 831.3"/>
<path d="M1840.0 858.7 L1875.3 852.9"/>
<path d="M1840.0 901.2 L1844.3 899.8 L1861.6 904.8 L1875.3 894.0 L1881.8 883.2"/>
<path d="M1888.3 917.0 L1884.7 920.2 L1886.2 936.1 L1891.2 972.1 L1899.1 949.8"/>
<path d="M1900.6 954.8 L1903.5 964.9 L1918.6 996.6 L1925.8 1014.7 L1938.1 1026.9 L1951.8 1045.0 L1971.3 1055.1 L1981.4 1046.4 L1984.2 1040.6"/>
<path d="M1996.5 914.4 L1999.4 921.6"/>
<path d="M1840.0 900.0 L1861.6 904.3 L1867.4 900.0"/>
<path d="M2285.1 794.2 L2300.5 764.7 L2304.4 748.5 L2315.8 745.0 L2311.9 766.5 L2291.7 803.0 L2285.1 794.2"/>
<path d="M2310.6 730.0 L2307.9 737.5 L2289.0 763.0 L2285.5 778.4 L2284.2 796.0 L2287.3 812.7 L2299.6 809.6 L2311.9 825.9 L2321.1 846.5 L2321.6 860.0"/>
<path d="M2321.2 860.0 L2321.2 867.5 L2306.0 865.0 L2294.8 868.2 L2312.5 878.2 L2339.2 882.5 L2345.5 907.5 L2359.8 932.0 L2357.2 941.2 L2338.5 910.8 L2331.8 917.0 L2325.5 909.2 L2311.8 914.5 L2303.5 900.0 L2293.0 892.0 L2285.0 878.8 L2282.5 893.0 L2289.2 905.0 L2317.5 922.5 L2305.0 933.8 L2326.2 928.8 L2347.5 950.8 L2367.2 949.5 L2394.2 964.2 L2412.5 966.2"/>
<path d="M2394.2 964.2 L2385.5 977.5 L2379.2 993.8 L2399.8 970.5 L2413.0 979.5 L2415.5 991.2 L2406.8 1001.2 L2406.2 1021.2 L2418.8 1008.8 L2420.0 1022.5 L2409.2 1040.0 L2410.5 1081.2 L2401.8 1097.5 L2398.0 1121.0"/>
<path d="M2398.0 1096.5 L2399.2 1109.0 L2398.0 1112.8 L2402.2 1129.0 L2404.2 1147.8 L2402.2 1169.0 L2396.8 1190.2 L2396.0 1216.5 L2412.5 1261.0 L2446.8 1287.8 L2468.0 1297.0 L2483.0 1301.5"/>
<path d="M2198.0 1484.0 L2199.2 1480.0 L2204.8 1461.5 L2217.5 1452.0 L2234.2 1444.0 L2235.5 1429.0 L2249.2 1437.8 L2264.8 1426.0 L2289.2 1397.0 L2306.8 1397.8 L2325.5 1391.5 L2342.2 1401.0 L2354.2 1385.8 L2359.8 1367.8 L2371.8 1352.8 L2394.2 1353.2 L2422.5 1361.0 L2432.5 1357.2 L2451.8 1369.8 L2462.2 1386.0 L2468.0 1391.5 L2483.0 1406.5"/>
<path d="M990.6 1121.3 A1405.1 1405.1 0 0 0 1632.75 940"/>
</g>
<path d="M1363.0 219.0 L1365.2 251.0 L1368.5 298.0 L1372.2 392.0 L1384.8 752.0 L1390.5 1121.0 L1391.5 1412.8" fill="none" stroke="#7a7a7a" stroke-width="3" stroke-dasharray="30.5 16.5" stroke-dashoffset="15"/>
<g fill="none" stroke="#464646" stroke-width="1.5">
<path d="M280.2 600.8 L438.5 763.0 L646.0 967.5 L805.0 1121.0 L845.0 1156.5 L872.5 1184.0 L913.8 1214.0 L937.5 1235.2 L967.5 1261.5 L1040.3 1332.4"/>
<path d="M1307.1 313.4 L1297.9 349.0 L1270.0 464.5 L1249.0 564.5 L1205.0 763.0 L1141.2 1097.5 L1127.5 1126.5 L1117.5 1154.0 L1110.0 1184.0 L1102.5 1219.0 L1095.0 1254.0 L1091.2 1284.0 L1093.2 1323.1"/>
<path d="M1734.9 1316.5 L1792.1 1142.5 L1826.1 1030.0 L1840.0 985.8 L1853.0 940.0 L1904.2 750.0 L1984.2 392.0 L2006.8 273.5"/>
<path d="M1754.0 1335.6 L1880.0 1204.0 L1926.8 1168.5 L1981.8 1109.0 L2158.8 914.0 L2199.9 865.9 L2300.5 750.0 L2470.0 540.0"/>
<path d="M1734.9 1316.5 L1743.3 1322.8 L1749.7 1329.2 L1754.0 1335.6"/>
<path d="M280.25 600.75 A1185.8 1185.8 0 0 1 1307.1 313.4"/>
<path d="M2006.75 273.5 A1279.5 1279.5 0 0 1 2480 466"/>
<path d="M1040.3 1332.4 A34.6 34.6 0 0 1 1093.2 1323.1"/>
</g>
<path d="M1099.0 1351.2 L1101.9 1344.8 L1101.2 1336.0 L1096.2 1324.0 C1126.0 1292.6 1225.9 1188.5 1274.7 1135.7 C1323.5 1082.9 1345.4 1055.6 1389.3 1006.9 C1433.2 958.2 1471.4 923.4 1538.2 843.6 C1605.0 763.8 1748.2 580.8 1790.2 528.2 A1161.4 1161.4 0 0 1 2167 1003.5 L2167.0 1003.5 L2029.0 1058.0 L1975.5 1076.2 L1874.0 1112.8 L1789.0 1142.8 L1604.0 1207.8 L1499.0 1237.8 L1404.0 1269.0 L1359.0 1284.0 L1329.0 1292.8 L1316.5 1295.2 L1294.0 1297.8 L1267.8 1301.5 L1249.0 1307.8 L1159.6 1328.9 L1099.0 1351.2" fill="none" stroke="#464646" stroke-width="4" stroke-linejoin="miter"/>
<path d="M931.2 359.2 L983.2 322.2 L990.8 333.8 L939.5 370.5 Z" fill="#0038c0"/>
<path d="M762.0 726.2 L795.8 711.5 L800.8 724.5 L767.5 738.8 Z" fill="#780000"/>
<path d="M784.0 845.2 L839.8 818.2 L866.8 884.8 L892.8 876.5 L902.8 903.8 L880.0 913.0 L884.5 926.0 L908.0 918.2 L913.2 931.8 L935.5 924.5 L949.0 967.0 L928.8 974.5 L943.8 1016.8 L927.2 1024.5 L931.8 1038.0 L949.5 1031.8 L955.2 1045.8 L922.5 1059.8 L915.8 1047.2 L899.0 1054.5 L880.0 1023.5 L868.5 1002.0 L851.2 1013.0 L858.0 1026.0 L841.0 1037.5 L815.0 1000.0 L797.8 974.8 L789.5 962.5 L831.5 937.0 L815.0 903.8 L811.8 896.2 L797.8 871.0 L823.0 857.2 L816.8 844.8 L790.2 857.8 Z" fill="#c8c8c8"/>
<path d="M843.0 898.0 L867.0 887.0 L872.5 899.5 L849.2 910.0 Z" fill="#646464"/>
<path d="M891.2 940.5 L913.2 932.8 L922.5 960.2 L902.8 968.0 Z" fill="#646464"/>
<path d="M827.0 974.2 L846.0 963.0 L852.8 974.8 L833.8 986.2 Z" fill="#646464"/>
<path d="M805.0 883.5 L830.5 871.0 L836.2 883.8 L811.2 896.2 Z" fill="#780000"/>
<path d="M833.8 936.2 L855.5 924.5 L861.8 937.0 L840.5 948.2 Z" fill="#780000"/>
<path d="M855.0 974.8 L875.8 964.5 L881.5 977.5 L861.8 987.8 Z" fill="#780000"/>
<path d="M903.2 968.0 L923.0 960.2 L928.2 974.2 L908.5 982.0 Z" fill="#780000"/>
<path d="M797.8 974.8 L819.5 962.2 L833.8 986.8 L815.0 999.2 Z" fill="#ffe0c4"/>
<path d="M646.2 968.8 L666.2 947.5 L780.8 1068.2 L765.0 1083.8 Z" fill="#c8c8c8"/>
<path d="M708.8 990.5 L750.0 955.5 L758.8 966.2 L738.8 983.8 L747.5 996.2 L728.8 1013.0 Z" fill="#c8c8c8"/>
<path d="M699.5 1019.5 L717.5 1002.0 L728.2 1012.5 L710.5 1030.5 Z" fill="#780000"/>
<path d="M750.0 1034.2 L767.5 1018.8 L776.8 1028.2 L761.8 1045.0 Z" fill="#0040c0"/>
<path d="M767.5 1018.8 L786.2 1003.0 L795.0 1013.8 L776.8 1028.2 Z" fill="#c8c8c8"/>
<path d="M1078.8 994.5 L1117.5 997.5 L1112.5 1059.5 L1080.0 1056.2 Z" fill="#c8c8c8"/>
<path d="M1130.0 1047.5 L1147.5 1051.2 L1145.0 1065.5 L1129.2 1062.0 Z" fill="#c8c8c8"/>
<path d="M1093.3 1323.1 L1095.8 1307.2 L1093.2 1305.7 L1091.3 1321.5 Z" fill="#000088"/>
<path d="M1095.8 1307.2 L1098.2 1292.1 L1094.9 1290.6 L1093.2 1305.7 Z" fill="#000088"/>
<path d="M1102.8 1262.7 L1105.1 1248.2 L1100.0 1246.6 L1098.3 1261.2 Z" fill="#000088"/>
<path d="M1109.6 1219.4 L1111.8 1205.1 L1105.0 1203.3 L1103.3 1217.7 Z" fill="#0040c0"/>
<path d="M1091.3 1321.5 L1093.2 1305.7 L1090.4 1304.3 L1089.3 1320.1 Z" fill="#000088"/>
<path d="M1093.2 1305.7 L1094.9 1290.6 L1091.5 1289.3 L1090.4 1304.3 Z" fill="#000088"/>
<path d="M1098.3 1261.2 L1100.0 1246.6 L1094.8 1245.3 L1093.7 1259.8 Z" fill="#000088"/>
<path d="M1090.4 1304.3 L1091.5 1289.3 L1088.1 1288.1 L1087.6 1303.2 Z" fill="#000088"/>
<path d="M1091.5 1289.3 L1092.6 1274.5 L1088.6 1273.4 L1088.1 1288.1 Z" fill="#000088"/>
<path d="M1092.6 1274.5 L1093.7 1259.8 L1089.0 1258.7 L1088.6 1273.4 Z" fill="#c8c8c8"/>
<path d="M1093.7 1259.8 L1094.8 1245.3 L1089.5 1244.1 L1089.0 1258.7 Z" fill="#000088"/>
<path d="M1094.8 1245.3 L1095.9 1230.7 L1090.0 1229.6 L1089.5 1244.1 Z" fill="#c8c8c8"/>
<path d="M1087.6 1303.2 L1088.1 1288.1 L1084.6 1287.2 L1084.7 1302.2 Z" fill="#000088"/>
<path d="M1088.1 1288.1 L1088.6 1273.4 L1084.4 1272.5 L1084.6 1287.2 Z" fill="#000088"/>
<path d="M1088.6 1273.4 L1089.0 1258.7 L1084.3 1257.9 L1084.4 1272.5 Z" fill="#c8c8c8"/>
<path d="M1089.0 1258.7 L1089.5 1244.1 L1084.2 1243.3 L1084.3 1257.9 Z" fill="#c8c8c8"/>
<path d="M1084.8 1317.6 L1084.7 1302.2 L1081.7 1301.3 L1082.4 1316.6 Z" fill="#000088"/>
<path d="M1084.7 1302.2 L1084.6 1287.2 L1080.9 1286.5 L1081.7 1301.3 Z" fill="#000088"/>
<path d="M1084.4 1272.5 L1084.3 1257.9 L1079.5 1257.3 L1080.2 1271.8 Z" fill="#c8c8c8"/>
<path d="M1084.3 1257.9 L1084.2 1243.3 L1078.8 1242.7 L1079.5 1257.3 Z" fill="#000088"/>
<path d="M1084.2 1243.3 L1084.0 1228.8 L1078.0 1228.2 L1078.8 1242.7 Z" fill="#000088"/>
<path d="M1082.4 1316.6 L1081.7 1301.3 L1078.6 1300.7 L1080.0 1315.8 Z" fill="#000088"/>
<path d="M1081.7 1301.3 L1080.9 1286.5 L1077.3 1286.0 L1078.6 1300.7 Z" fill="#000088"/>
<path d="M1080.9 1286.5 L1080.2 1271.8 L1076.0 1271.4 L1077.3 1286.0 Z" fill="#000088"/>
<path d="M1080.2 1271.8 L1079.5 1257.3 L1074.6 1256.9 L1076.0 1271.4 Z" fill="#c8c8c8"/>
<path d="M1079.5 1257.3 L1078.8 1242.7 L1073.3 1242.4 L1074.6 1256.9 Z" fill="#c8c8c8"/>
<path d="M1078.8 1242.7 L1078.0 1228.2 L1072.0 1228.0 L1073.3 1242.4 Z" fill="#000088"/>
<path d="M1078.0 1228.2 L1077.3 1213.8 L1070.7 1213.6 L1072.0 1228.0 Z" fill="#000088"/>
<path d="M1077.3 1213.8 L1076.6 1199.3 L1069.4 1199.2 L1070.7 1213.6 Z" fill="#000088"/>
<path d="M1080.0 1315.8 L1078.6 1300.7 L1075.5 1300.3 L1077.5 1315.2 Z" fill="#c8c8c8"/>
<path d="M1078.6 1300.7 L1077.3 1286.0 L1073.6 1285.7 L1075.5 1300.3 Z" fill="#c8c8c8"/>
<path d="M1077.3 1286.0 L1076.0 1271.4 L1071.7 1271.2 L1073.6 1285.7 Z" fill="#000088"/>
<path d="M1076.0 1271.4 L1074.6 1256.9 L1069.7 1256.8 L1071.7 1271.2 Z" fill="#000088"/>
<path d="M1074.6 1256.9 L1073.3 1242.4 L1067.8 1242.4 L1069.7 1256.8 Z" fill="#000088"/>
<path d="M1073.3 1242.4 L1072.0 1228.0 L1065.9 1228.1 L1067.8 1242.4 Z" fill="#c8c8c8"/>
<path d="M1073.6 1285.7 L1071.7 1271.2 L1067.3 1271.3 L1069.9 1285.6 Z" fill="#000088"/>
<path d="M1071.7 1271.2 L1069.7 1256.8 L1064.8 1257.0 L1067.3 1271.3 Z" fill="#000088"/>
<path d="M1069.7 1256.8 L1067.8 1242.4 L1062.3 1242.7 L1064.8 1257.0 Z" fill="#c8c8c8"/>
<path d="M1067.8 1242.4 L1065.9 1228.1 L1059.9 1228.5 L1062.3 1242.7 Z" fill="#c8c8c8"/>
<path d="M1064.0 1213.7 L1062.1 1199.4 L1054.9 1200.0 L1057.4 1214.2 Z" fill="#c8c8c8"/>
<path d="M1072.4 1300.0 L1069.9 1285.6 L1066.1 1285.7 L1069.2 1300.0 Z" fill="#000088"/>
<path d="M1069.9 1285.6 L1067.3 1271.3 L1063.0 1271.5 L1066.1 1285.7 Z" fill="#c8c8c8"/>
<path d="M1067.3 1271.3 L1064.8 1257.0 L1059.9 1257.4 L1063.0 1271.5 Z" fill="#000088"/>
<path d="M1064.8 1257.0 L1062.3 1242.7 L1056.9 1243.3 L1059.9 1257.4 Z" fill="#000088"/>
<path d="M1062.3 1242.7 L1059.9 1228.5 L1053.8 1229.1 L1056.9 1243.3 Z" fill="#000088"/>
<path d="M1059.9 1228.5 L1057.4 1214.2 L1050.7 1215.0 L1053.8 1229.1 Z" fill="#c8c8c8"/>
<path d="M1057.4 1214.2 L1054.9 1200.0 L1047.6 1200.9 L1050.7 1215.0 Z" fill="#c8c8c8"/>
<path d="M1072.4 1314.5 L1069.2 1300.0 L1066.0 1300.2 L1069.8 1314.4 Z" fill="#000088"/>
<path d="M1069.2 1300.0 L1066.1 1285.7 L1062.4 1286.1 L1066.0 1300.2 Z" fill="#c8c8c8"/>
<path d="M1066.1 1285.7 L1063.0 1271.5 L1058.7 1272.1 L1062.4 1286.1 Z" fill="#000088"/>
<path d="M1063.0 1271.5 L1059.9 1257.4 L1055.1 1258.1 L1058.7 1272.1 Z" fill="#c8c8c8"/>
<path d="M1059.9 1257.4 L1056.9 1243.3 L1051.4 1244.1 L1055.1 1258.1 Z" fill="#000088"/>
<path d="M1056.9 1243.3 L1053.8 1229.1 L1047.8 1230.1 L1051.4 1244.1 Z" fill="#000088"/>
<path d="M1053.8 1229.1 L1050.7 1215.0 L1044.1 1216.2 L1047.8 1230.1 Z" fill="#000088"/>
<path d="M1050.7 1215.0 L1047.6 1200.9 L1040.5 1202.2 L1044.1 1216.2 Z" fill="#000088"/>
<path d="M1069.8 1314.4 L1066.0 1300.2 L1062.9 1300.6 L1067.2 1314.5 Z" fill="#000088"/>
<path d="M1066.0 1300.2 L1062.4 1286.1 L1058.6 1286.7 L1062.9 1300.6 Z" fill="#000088"/>
<path d="M1062.4 1286.1 L1058.7 1272.1 L1054.4 1272.8 L1058.6 1286.7 Z" fill="#000088"/>
<path d="M1058.7 1272.1 L1055.1 1258.1 L1050.2 1259.0 L1054.4 1272.8 Z" fill="#c8c8c8"/>
<path d="M1055.1 1258.1 L1051.4 1244.1 L1046.0 1245.2 L1050.2 1259.0 Z" fill="#000088"/>
<path d="M1051.4 1244.1 L1047.8 1230.1 L1041.8 1231.4 L1046.0 1245.2 Z" fill="#000088"/>
<path d="M1047.8 1230.1 L1044.1 1216.2 L1037.5 1217.6 L1041.8 1231.4 Z" fill="#000088"/>
<path d="M1044.1 1216.2 L1040.5 1202.2 L1033.3 1203.8 L1037.5 1217.6 Z" fill="#000088"/>
<path d="M1067.2 1314.5 L1062.9 1300.6 L1059.8 1301.1 L1064.6 1314.9 Z" fill="#000088"/>
<path d="M1062.9 1300.6 L1058.6 1286.7 L1055.0 1287.5 L1059.8 1301.1 Z" fill="#000088"/>
<path d="M1058.6 1286.7 L1054.4 1272.8 L1050.2 1273.9 L1055.0 1287.5 Z" fill="#000088"/>
<path d="M1054.4 1272.8 L1050.2 1259.0 L1045.4 1260.2 L1050.2 1273.9 Z" fill="#000088"/>
<path d="M1050.2 1259.0 L1046.0 1245.2 L1040.6 1246.6 L1045.4 1260.2 Z" fill="#000088"/>
<path d="M1046.0 1245.2 L1041.8 1231.4 L1035.8 1233.0 L1040.6 1246.6 Z" fill="#000088"/>
<path d="M1041.8 1231.4 L1037.5 1217.6 L1031.0 1219.4 L1035.8 1233.0 Z" fill="#000088"/>
<path d="M1037.5 1217.6 L1033.3 1203.8 L1026.3 1205.8 L1031.0 1219.4 Z" fill="#000088"/>
<path d="M1033.3 1203.8 L1029.1 1190.0 L1021.5 1192.2 L1026.3 1205.8 Z" fill="#c8c8c8"/>
<path d="M1024.9 1176.3 L1020.7 1162.5 L1012.0 1165.0 L1016.7 1178.6 Z" fill="#c8c8c8"/>
<path d="M1064.6 1314.9 L1059.8 1301.1 L1056.7 1301.9 L1062.0 1315.4 Z" fill="#c8c8c8"/>
<path d="M1059.8 1301.1 L1055.0 1287.5 L1051.3 1288.5 L1056.7 1301.9 Z" fill="#000088"/>
<path d="M1055.0 1287.5 L1050.2 1273.9 L1046.0 1275.1 L1051.3 1288.5 Z" fill="#000088"/>
<path d="M1050.2 1273.9 L1045.4 1260.2 L1040.6 1261.7 L1046.0 1275.1 Z" fill="#000088"/>
<path d="M1045.4 1260.2 L1040.6 1246.6 L1035.3 1248.3 L1040.6 1261.7 Z" fill="#000088"/>
<path d="M1040.6 1246.6 L1035.8 1233.0 L1030.0 1234.9 L1035.3 1248.3 Z" fill="#000088"/>
<path d="M1035.8 1233.0 L1031.0 1219.4 L1024.6 1221.5 L1030.0 1234.9 Z" fill="#000088"/>
<path d="M1056.7 1301.9 L1051.3 1288.5 L1047.7 1289.8 L1053.6 1302.9 Z" fill="#000088"/>
<path d="M1051.3 1288.5 L1046.0 1275.1 L1041.8 1276.6 L1047.7 1289.8 Z" fill="#000088"/>
<path d="M1046.0 1275.1 L1040.6 1261.7 L1036.0 1263.4 L1041.8 1276.6 Z" fill="#000088"/>
<path d="M1040.6 1261.7 L1035.3 1248.3 L1030.1 1250.3 L1036.0 1263.4 Z" fill="#000088"/>
<path d="M1035.3 1248.3 L1030.0 1234.9 L1024.2 1237.1 L1030.1 1250.3 Z" fill="#000088"/>
<path d="M1030.0 1234.9 L1024.6 1221.5 L1018.3 1224.0 L1024.2 1237.1 Z" fill="#c8c8c8"/>
<path d="M1059.5 1316.1 L1053.6 1302.9 L1050.6 1304.1 L1057.0 1317.0 Z" fill="#000088"/>
<path d="M1053.6 1302.9 L1047.7 1289.8 L1044.2 1291.2 L1050.6 1304.1 Z" fill="#000088"/>
<path d="M1047.7 1289.8 L1041.8 1276.6 L1037.8 1278.3 L1044.2 1291.2 Z" fill="#000088"/>
<path d="M1041.8 1276.6 L1036.0 1263.4 L1031.4 1265.4 L1037.8 1278.3 Z" fill="#c8c8c8"/>
<path d="M1036.0 1263.4 L1030.1 1250.3 L1025.0 1252.5 L1031.4 1265.4 Z" fill="#c8c8c8"/>
<path d="M1030.1 1250.3 L1024.2 1237.1 L1018.6 1239.6 L1025.0 1252.5 Z" fill="#c8c8c8"/>
<path d="M1024.2 1237.1 L1018.3 1224.0 L1012.2 1226.7 L1018.6 1239.6 Z" fill="#c8c8c8"/>
<path d="M1018.3 1224.0 L1012.5 1210.8 L1005.8 1213.8 L1012.2 1226.7 Z" fill="#c8c8c8"/>
<path d="M1057.0 1317.0 L1050.6 1304.1 L1047.7 1305.5 L1054.7 1318.1 Z" fill="#000088"/>
<path d="M1050.6 1304.1 L1044.2 1291.2 L1040.8 1292.9 L1047.7 1305.5 Z" fill="#000088"/>
<path d="M1044.2 1291.2 L1037.8 1278.3 L1033.9 1280.3 L1040.8 1292.9 Z" fill="#c8c8c8"/>
<path d="M1037.8 1278.3 L1031.4 1265.4 L1026.9 1267.6 L1033.9 1280.3 Z" fill="#c8c8c8"/>
<path d="M1031.4 1265.4 L1025.0 1252.5 L1020.0 1255.0 L1026.9 1267.6 Z" fill="#000088"/>
<path d="M1025.0 1252.5 L1018.6 1239.6 L1013.1 1242.4 L1020.0 1255.0 Z" fill="#c8c8c8"/>
<path d="M1018.6 1239.6 L1012.2 1226.7 L1006.1 1229.8 L1013.1 1242.4 Z" fill="#000088"/>
<path d="M1012.2 1226.7 L1005.8 1213.8 L999.2 1217.1 L1006.1 1229.8 Z" fill="#000088"/>
<path d="M1054.7 1318.1 L1047.7 1305.5 L1044.9 1307.1 L1052.4 1319.4 Z" fill="#000088"/>
<path d="M1047.7 1305.5 L1040.8 1292.9 L1037.5 1294.8 L1044.9 1307.1 Z" fill="#000088"/>
<path d="M1040.8 1292.9 L1033.9 1280.3 L1030.0 1282.4 L1037.5 1294.8 Z" fill="#000088"/>
<path d="M1033.9 1280.3 L1026.9 1267.6 L1022.6 1270.1 L1030.0 1282.4 Z" fill="#000088"/>
<path d="M1020.0 1255.0 L1013.1 1242.4 L1007.7 1245.4 L1015.2 1257.8 Z" fill="#000088"/>
<path d="M1013.1 1242.4 L1006.1 1229.8 L1000.3 1233.1 L1007.7 1245.4 Z" fill="#000088"/>
<path d="M1006.1 1229.8 L999.2 1217.1 L992.8 1220.8 L1000.3 1233.1 Z" fill="#c8c8c8"/>
<path d="M1052.4 1319.4 L1044.9 1307.1 L1042.2 1308.8 L1050.2 1320.8 Z" fill="#780000"/>
<path d="M1044.9 1307.1 L1037.5 1294.8 L1034.3 1296.8 L1042.2 1308.8 Z" fill="#c8c8c8"/>
<path d="M1037.5 1294.8 L1030.0 1282.4 L1026.3 1284.8 L1034.3 1296.8 Z" fill="#c8c8c8"/>
<path d="M1030.0 1282.4 L1022.6 1270.1 L1018.4 1272.8 L1026.3 1284.8 Z" fill="#000088"/>
<path d="M1022.6 1270.1 L1015.2 1257.8 L1010.5 1260.8 L1018.4 1272.8 Z" fill="#c8c8c8"/>
<path d="M1015.2 1257.8 L1007.7 1245.4 L1002.5 1248.8 L1010.5 1260.8 Z" fill="#c8c8c8"/>
<path d="M1007.7 1245.4 L1000.3 1233.1 L994.6 1236.8 L1002.5 1248.8 Z" fill="#c8c8c8"/>
<path d="M1000.3 1233.1 L992.8 1220.8 L986.6 1224.8 L994.6 1236.8 Z" fill="#c8c8c8"/>
<path d="M992.8 1220.8 L985.4 1208.5 L978.7 1212.7 L986.6 1224.8 Z" fill="#c8c8c8"/>
<path d="M1050.2 1320.8 L1042.2 1308.8 L1039.7 1310.7 L1048.1 1322.4 Z" fill="#000088"/>
<path d="M1042.2 1308.8 L1034.3 1296.8 L1031.2 1299.1 L1039.7 1310.7 Z" fill="#000088"/>
<path d="M1034.3 1296.8 L1026.3 1284.8 L1022.8 1287.4 L1031.2 1299.1 Z" fill="#c8c8c8"/>
<path d="M1026.3 1284.8 L1018.4 1272.8 L1014.4 1275.7 L1022.8 1287.4 Z" fill="#000088"/>
<path d="M1018.4 1272.8 L1010.5 1260.8 L1005.9 1264.0 L1014.4 1275.7 Z" fill="#c8c8c8"/>
<path d="M1002.5 1248.8 L994.6 1236.8 L989.1 1240.7 L997.5 1252.4 Z" fill="#c8c8c8"/>
<path d="M994.6 1236.8 L986.6 1224.8 L980.6 1229.0 L989.1 1240.7 Z" fill="#c8c8c8"/>
<path d="M1048.1 1322.4 L1039.7 1310.7 L1037.2 1312.8 L1046.2 1324.2 Z" fill="#000088"/>
<path d="M1039.7 1310.7 L1031.2 1299.1 L1028.3 1301.5 L1037.2 1312.8 Z" fill="#000088"/>
<path d="M1022.8 1287.4 L1014.4 1275.7 L1010.5 1278.8 L1019.4 1290.2 Z" fill="#000088"/>
<path d="M1014.4 1275.7 L1005.9 1264.0 L1001.6 1267.5 L1010.5 1278.8 Z" fill="#c8c8c8"/>
<path d="M997.5 1252.4 L989.1 1240.7 L983.7 1244.9 L992.7 1256.2 Z" fill="#000088"/>
<path d="M989.1 1240.7 L980.6 1229.0 L974.8 1233.6 L983.7 1244.9 Z" fill="#c8c8c8"/>
<path d="M972.2 1217.3 L963.8 1205.7 L957.0 1210.9 L965.9 1222.2 Z" fill="#000088"/>
<path d="M1037.2 1312.8 L1028.3 1301.5 L1025.5 1304.1 L1034.9 1315.1 Z" fill="#000088"/>
<path d="M1028.3 1301.5 L1019.4 1290.2 L1016.2 1293.1 L1025.5 1304.1 Z" fill="#000088"/>
<path d="M1019.4 1290.2 L1010.5 1278.8 L1006.8 1282.2 L1016.2 1293.1 Z" fill="#000088"/>
<path d="M1010.5 1278.8 L1001.6 1267.5 L997.4 1271.2 L1006.8 1282.2 Z" fill="#c8c8c8"/>
<path d="M1001.6 1267.5 L992.7 1256.2 L988.0 1260.3 L997.4 1271.2 Z" fill="#c8c8c8"/>
<path d="M992.7 1256.2 L983.7 1244.9 L978.7 1249.3 L988.0 1260.3 Z" fill="#000088"/>
<path d="M983.7 1244.9 L974.8 1233.6 L969.3 1238.4 L978.7 1249.3 Z" fill="#000088"/>
<path d="M965.9 1222.2 L957.0 1210.9 L950.6 1216.5 L959.9 1227.4 Z" fill="#000088"/>
<path d="M1044.4 1326.1 L1034.9 1315.1 L1032.8 1317.4 L1042.7 1328.1 Z" fill="#000088"/>
<path d="M1034.9 1315.1 L1025.5 1304.1 L1022.9 1306.8 L1032.8 1317.4 Z" fill="#000088"/>
<path d="M1025.5 1304.1 L1016.2 1293.1 L1013.1 1296.3 L1022.9 1306.8 Z" fill="#000088"/>
<path d="M1006.8 1282.2 L997.4 1271.2 L993.5 1275.1 L1003.3 1285.7 Z" fill="#c8c8c8"/>
<path d="M997.4 1271.2 L988.0 1260.3 L983.6 1264.6 L993.5 1275.1 Z" fill="#c8c8c8"/>
<path d="M988.0 1260.3 L978.7 1249.3 L973.8 1254.0 L983.6 1264.6 Z" fill="#c8c8c8"/>
<path d="M978.7 1249.3 L969.3 1238.4 L964.0 1243.5 L973.8 1254.0 Z" fill="#000088"/>
<path d="M969.3 1238.4 L959.9 1227.4 L954.2 1232.9 L964.0 1243.5 Z" fill="#000088"/>
<path d="M1042.7 1328.1 L1032.8 1317.4 L1030.8 1320.0 L1041.2 1330.2 Z" fill="#000088"/>
<path d="M1022.9 1306.8 L1013.1 1296.3 L1010.2 1299.6 L1020.5 1309.7 Z" fill="#000088"/>
<path d="M1013.1 1296.3 L1003.3 1285.7 L1000.0 1289.4 L1010.2 1299.6 Z" fill="#000088"/>
<path d="M1003.3 1285.7 L993.5 1275.1 L989.7 1279.2 L1000.0 1289.4 Z" fill="#000088"/>
<path d="M993.5 1275.1 L983.6 1264.6 L979.5 1269.1 L989.7 1279.2 Z" fill="#000088"/>
<path d="M983.6 1264.6 L973.8 1254.0 L969.2 1258.9 L979.5 1269.1 Z" fill="#c8c8c8"/>
<path d="M1041.2 1330.2 L1030.8 1320.0 L1029.0 1322.6 L1039.9 1332.5 Z" fill="#000088"/>
<path d="M1030.8 1320.0 L1020.5 1309.7 L1018.3 1312.8 L1029.0 1322.6 Z" fill="#000088"/>
<path d="M1020.5 1309.7 L1010.2 1299.6 L1007.6 1303.0 L1018.3 1312.8 Z" fill="#000088"/>
<path d="M1010.2 1299.6 L1000.0 1289.4 L996.9 1293.2 L1007.6 1303.0 Z" fill="#000088"/>
<path d="M1000.0 1289.4 L989.7 1279.2 L986.2 1283.5 L996.9 1293.2 Z" fill="#000088"/>
<path d="M989.7 1279.2 L979.5 1269.1 L975.5 1273.8 L986.2 1283.5 Z" fill="#000088"/>
<path d="M979.5 1269.1 L969.2 1258.9 L964.9 1264.1 L975.5 1273.8 Z" fill="#000088"/>
<path d="M923.1 1174.6 L943.3 1158.7 L956.2 1178.9 L947.6 1184.7 L940.4 1176.8 L930.3 1182.5 Z" fill="#000088"/>
<path d="M927.3 1225.5 L940.6 1212.1 L950.9 1222.4 L938.6 1236.8 Z" fill="#780000"/>
<path d="M959.1 1216.2 L966.3 1211.1 L974.6 1220.4 L967.4 1227.6 Z" fill="#000088"/>
<path d="M1050.8 1111.5 L1063.8 1110.2 L1063.0 1132.8 L1051.8 1133.5 Z" fill="#780000"/>
<path d="M1013.8 1170.2 L1022.5 1166.5 L1026.2 1181.5 L1017.5 1184.0 Z" fill="#c8c8c8"/>
<path d="M1290.2 825.0 L1314.5 806.2 L1322.8 817.5 L1299.0 835.0 Z" fill="#8c8c8c"/>
<path d="M1309.0 848.2 L1331.5 830.0 L1340.2 841.2 L1316.5 858.8 Z" fill="#8c8c8c"/>
<path d="M1316.5 858.8 L1340.2 841.2 L1350.2 852.5 L1325.2 871.2 Z" fill="#c8c8c8"/>
<path d="M1325.2 871.2 L1350.2 852.5 L1359.0 863.8 L1335.2 882.5 Z" fill="#8c8c8c"/>
<path d="M1335.2 882.5 L1359.0 863.8 L1403.5 924.5 L1380.2 940.8 Z" fill="#c8c8c8"/>
<path d="M1380.2 940.8 L1403.5 924.5 L1411.0 937.5 L1392.8 950.8 Z" fill="#8c8c8c"/>
<path d="M1432.8 967.5 L1441.5 956.8 L1462.8 976.2 L1454.0 986.2 Z" fill="#b4b4b4"/>
<path d="M1432.8 997.5 L1447.8 986.2 L1456.5 997.5 L1441.5 1010.0 Z" fill="#8c8c8c"/>
<path d="M1286.5 1123.5 L1306.5 1104.5 L1326.5 1123.5 Z" fill="#b4b4b4"/>
<path d="M1485.2 996.2 L1495.2 988.8 L1514.8 1011.2 L1504.0 1020.0 Z" fill="#c8c8c8"/>
<path d="M1275.2 1139.0 L1299.0 1109.0 L1321.5 1109.0 L1331.5 1130.2 L1344.0 1170.2 L1356.5 1162.8 L1376.5 1191.5 L1392.8 1226.5 L1405.2 1267.8 L1357.8 1282.8 L1344.0 1239.0 L1324.0 1200.2 L1311.5 1175.2 L1297.8 1162.8 Z" fill="#b4b4b4"/>
<path d="M1297.8 1162.8 L1321.5 1142.8 L1332.8 1155.2 L1309.0 1175.2 Z" fill="#c8c8c8"/>
<path d="M1597.2 1176.6 L1608.1 1172.0 L1618.9 1201.8 L1605.8 1206.4 Z" fill="#b4b4b4"/>
<path d="M1623.0 1225.3 L1627.0 1223.6 L1635.0 1236.2 L1631.5 1237.9 Z" fill="#8c8c8c"/>
<path d="M1644.7 1250.5 L1647.6 1249.3 L1668.2 1274.5 L1665.3 1276.8 Z" fill="#8c8c8c"/>
<path d="M1664.8 1278.0 L1670.5 1275.1 L1679.7 1289.4 L1676.2 1291.2 Z" fill="#780000"/>
<path d="M1677.4 1291.7 L1680.8 1289.4 L1707.1 1319.2 L1704.3 1320.4 Z" fill="#c8c8c8"/>
<path d="M1821.9 1047.0 L1837.8 1052.3 L1827.2 1083.1 L1842.0 1089.4 L1834.6 1105.3 L1850.5 1110.6 L1838.8 1131.9 L1824.0 1126.6 L1821.9 1136.1 L1809.1 1155.2 L1821.9 1165.8 L1813.4 1177.5 L1784.7 1166.9 L1793.2 1140.3 L1801.7 1115.9 L1807.0 1092.6 L1812.3 1077.7 Z" fill="#c8c8c8"/>
<path d="M1812.3 1077.7 L1827.2 1083.1 L1821.9 1097.9 L1807.0 1092.6 Z" fill="#780000"/>
<path d="M1801.7 1115.9 L1813.4 1120.2 L1807.0 1135.0 L1794.3 1130.8 Z" fill="#f9f9ea"/>
<path d="M1793.2 1127.6 L1808.7 1132.9 L1805.9 1141.4 L1792.1 1138.2 Z" fill="#780000"/>
<path d="M1784.7 1166.9 L1787.9 1151.0 L1799.6 1155.2 L1795.3 1169.0 Z" fill="#780000"/>
<path d="M1795.3 1169.0 L1799.6 1155.2 L1810.2 1159.4 L1804.9 1173.2 Z" fill="#0040c0"/>
<path d="M1843.1 1089.4 L1849.4 1074.6 L1864.3 1082.0 L1857.9 1095.8 Z" fill="#c8c8c8"/>
<path d="M1763.5 1229.5 L1776.2 1234.8 L1769.9 1250.7 L1754.0 1263.4 L1759.3 1242.2 Z" fill="#c8c8c8"/>
<path d="M1776.2 1234.8 L1783.7 1238.0 L1775.2 1258.1 L1768.4 1254.5 Z" fill="#000088"/>
<path d="M1789.0 1241.8 L1796.4 1246.0 L1784.7 1259.2 L1780.5 1256.0 Z" fill="#000088"/>
<path d="M1754.0 1261.3 L1765.6 1247.5 L1775.2 1251.8 L1768.8 1265.5 L1781.5 1277.2 L1773.1 1293.1 L1747.6 1280.4 Z" fill="#000088"/>
<path d="M1768.8 1265.5 L1776.2 1252.8 L1787.9 1262.4 L1779.4 1274.0 Z" fill="#780000"/>
<path d="M1781.5 1277.2 L1813.4 1236.9 L1818.7 1241.1 L1785.8 1284.6 Z" fill="#c8c8c8"/>
<path d="M1814.4 1258.1 L1824.0 1247.5 L1830.3 1253.9 L1820.8 1264.5 Z" fill="#c8c8c8"/>
<path d="M1774.1 1292.1 L1785.8 1281.5 L1790.0 1286.8 L1778.4 1297.4 Z" fill="#c8c8c8"/>
<path d="M1779.4 1297.4 L1790.0 1286.8 L1794.3 1289.9 L1782.6 1302.7 Z" fill="#780000"/>
<path d="M1763.5 1312.2 L1777.3 1296.3 L1780.5 1299.5 L1766.7 1315.4 Z" fill="#780000"/>
<path d="M1738.0 1317.5 L1750.8 1280.4 L1754.0 1281.5 L1741.2 1318.6 Z" fill="#c8c8c8"/>
<path d="M1734.9 1316.5 L1747.6 1279.3 L1750.8 1280.4 L1738.0 1317.5 Z" fill="#780000"/>
<path d="M1741.2 1318.6 L1757.1 1282.5 L1760.3 1284.6 L1744.4 1319.7 Z" fill="#780000"/>
<path d="M1743.3 1318.6 L1751.8 1303.7 L1755.0 1305.9 L1746.5 1320.7 Z" fill="#000088"/>
<path d="M1747.6 1323.9 L1768.8 1288.9 L1772.0 1292.1 L1750.8 1326.0 Z" fill="#000088"/>
<path d="M1912.8 715.1 L1941.0 723.8 L1977.0 736.1 L2010.2 749.0 L2047.0 763.5 L2041.2 777.2 L2070.8 793.0 L2102.5 812.5 L2095.3 825.5 L2123.4 845.0 L2106.8 871.6 L2132.8 891.1 L2139.3 879.6 L2168.9 900.5 L2028.2 1057.9 L2010.9 1043.5 L2000.8 1054.6 L1946.0 1014.7 L1953.9 1001.7 L1934.5 988.0 L1913.6 977.9 L1919.3 963.5 L1899.9 952.6 L1909.2 926.0 L1886.2 916.6 L1891.2 901.2 L1894.8 886.8 L1871.0 878.9 L1894.8 789.4 L1923.7 798.1 L1953.9 807.5 L1964.0 763.5 L1905.6 745.4 Z" fill="#c8c8c8"/>
<path d="M1971.3 916.6 L1978.5 904.3 L2002.3 917.3 L1995.1 930.3 Z" fill="#f9f9ea"/>
<path d="M1987.1 945.4 L1995.1 931.7 L2017.4 946.9 L2009.5 959.1 Z" fill="#f9f9ea"/>
<path d="M1961.9 986.5 L1970.5 973.6 L1990.7 986.5 L1982.1 999.5 Z" fill="#f9f9ea"/>
<path d="M1891.2 901.2 L1894.8 886.8 L1920.8 895.4 L1915.0 909.9 Z" fill="#000088"/>
<path d="M2049.9 949.0 L2059.2 936.1 L2082.3 954.1 L2072.2 967.1 Z" fill="#000088"/>
<path d="M1953.9 1001.7 L1961.9 987.3 L1982.1 999.5 L1973.4 1013.2 Z" fill="#000088"/>
<path d="M2002.3 1013.9 L2012.4 1001.0 L2031.8 1016.8 L2021.0 1029.1 Z" fill="#000088"/>
<path d="M1934.5 988.0 L1942.4 975.0 L1961.9 986.5 L1953.9 1000.2 Z" fill="#ffe0c4"/>
<path d="M1900.6 760.6 L1933.0 768.5 L1928.7 782.9 L1897.7 774.3 Z" fill="#c8c8c8"/>
<path d="M1919.3 812.5 L1923.7 798.1 L1953.9 807.5 L1948.2 822.6 Z" fill="#a00000"/>
<path d="M1965.5 778.6 L1969.8 764.9 L2002.3 777.2 L1995.8 791.6 Z" fill="#780000"/>
<path d="M2153.0 865.9 L2162.4 854.3 L2190.5 876.0 L2180.4 889.0 Z" fill="#c8c8c8"/>
<path d="M1904.2 1045.7 L1911.4 1032.0 L1929.4 1042.1 L1979.2 1080.3 L1958.3 1104.8 L1912.8 1070.2 L1919.3 1057.9 Z" fill="#c8c8c8"/>
<path d="M1911.4 1032.0 L1919.3 1017.6 L1937.4 1028.4 L1929.4 1042.1 Z" fill="#780000"/>
<path d="M1843.6 1086.1 L1849.4 1073.8 L1864.5 1081.7 L1858.0 1096.2 Z" fill="#c8c8c8"/>
<path d="M1094.3 1328.0 C1143.5 1286.4 1308.6 1148.2 1389.3 1078.5 C1470.0 1008.8 1503.2 981.6 1578.3 909.5 C1653.4 837.4 1789.8 697.2 1840.0 646.0 C1890.2 594.8 1872.7 609.3 1879.2 602.0 L1925.5 644.5" fill="none" stroke="#ff00ff" stroke-width="2.5"/>
<path d="M1094.3 1328.0 C1143.5 1292.1 1315.3 1169.7 1389.3 1112.8 C1463.3 1055.9 1463.1 1051.7 1538.2 986.8 C1613.3 921.9 1775.5 780.4 1840.0 723.4 C1904.5 666.4 1911.2 657.6 1925.5 644.5" fill="none" stroke="#ff00ff" stroke-width="2.5"/>
<path d="M1085.5 473.8 L1039.5 507.0 L1249.0 773.8 L1535.2 1121.0 L1606.5 1207.8 L1703.7 1321.5" fill="none" stroke="#505050" stroke-width="4.5"/>
<path d="M1085.5 473.8 L1270.0 738.2 L1555.2 1121.0 L1596.5 1181.5 L1619.0 1202.8 L1708.9 1319.2" fill="none" stroke="#505050" stroke-width="4.5"/>
<path d="M1085.5 473.8 L1039.5 507.0 L1249.0 773.8 L1535.2 1121.0 L1606.5 1207.8 L1703.7 1321.5" fill="none" stroke="#ff00ff" stroke-width="2.8"/>
<path d="M1085.5 473.8 L1270.0 738.2 L1555.2 1121.0 L1596.5 1181.5 L1619.0 1202.8 L1708.9 1319.2" fill="none" stroke="#ff00ff" stroke-width="2.8"/>
<text x="59.0" y="67.0" font-size="33.5" text-anchor="start" fill="#000">January, 22 2020</text>
<text x="59.0" y="95.0" font-size="33.5" text-anchor="start" fill="#000">1619:11 UT</text>
<text x="74.0" y="851.6" font-size="31.0" text-anchor="start" fill="#000">Velocity (m/s)</text>
<defs>
<linearGradient id="cg0" x1="0" y1="0" x2="0" y2="1"><stop offset="0" stop-color="#c4e6fa"/><stop offset="1" stop-color="#74bef0"/></linearGradient>
<linearGradient id="cg1" x1="0" y1="0" x2="0" y2="1"><stop offset="0" stop-color="#2ca6f0"/><stop offset="1" stop-color="#0088e6"/></linearGradient>
<linearGradient id="cg2" x1="0" y1="0" x2="0" y2="1"><stop offset="0" stop-color="#0080de"/><stop offset="1" stop-color="#0056c6"/></linearGradient>
<linearGradient id="cg3" x1="0" y1="0" x2="0" y2="1"><stop offset="0" stop-color="#0048b6"/><stop offset="1" stop-color="#002896"/></linearGradient>
<linearGradient id="cg4" x1="0" y1="0" x2="0" y2="1"><stop offset="0" stop-color="#001a8e"/><stop offset="1" stop-color="#000078"/></linearGradient>
<linearGradient id="cg5" x1="0" y1="0" x2="0" y2="1"><stop offset="0" stop-color="#740000"/><stop offset="1" stop-color="#900000"/></linearGradient>
<linearGradient id="cg6" x1="0" y1="0" x2="0" y2="1"><stop offset="0" stop-color="#a00000"/><stop offset="1" stop-color="#d03a00"/></linearGradient>
<linearGradient id="cg7" x1="0" y1="0" x2="0" y2="1"><stop offset="0" stop-color="#d84800"/><stop offset="1" stop-color="#ff7000"/></linearGradient>
<linearGradient id="cg8" x1="0" y1="0" x2="0" y2="1"><stop offset="0" stop-color="#ff7800"/><stop offset="1" stop-color="#f6a444"/></linearGradient>
<linearGradient id="cg9" x1="0" y1="0" x2="0" y2="1"><stop offset="0" stop-color="#f6b070"/><stop offset="1" stop-color="#fde6cc"/></linearGradient>
</defs>
<rect x="150.3" y="895.1" width="38.3" height="43.6" fill="url(#cg0)"/>
<rect x="150.3" y="938.7" width="38.3" height="43.6" fill="url(#cg1)"/>
<rect x="150.3" y="982.3" width="38.3" height="43.3" fill="url(#cg2)"/>
<rect x="150.3" y="1025.6" width="38.3" height="43.6" fill="url(#cg3)"/>
<rect x="150.3" y="1069.2" width="38.3" height="38.1" fill="url(#cg4)"/>
<rect x="150.3" y="1117.0" width="38.3" height="38.1" fill="url(#cg5)"/>
<rect x="150.3" y="1155.1" width="38.3" height="44.2" fill="url(#cg6)"/>
<rect x="150.3" y="1199.3" width="38.3" height="43.1" fill="url(#cg7)"/>
<rect x="150.3" y="1242.4" width="38.3" height="43.2" fill="url(#cg8)"/>
<rect x="150.3" y="1285.6" width="38.3" height="43.7" fill="url(#cg9)"/>
<rect x="150.3" y="1107.3" width="38.3" height="9.7" fill="#dadada"/>
<line x1="150.3" x2="188.6" y1="1112.4" y2="1112.4" stroke="#8a8a8a" stroke-width="1.5"/>
<line x1="150.3" x2="188.6" y1="938.7" y2="938.7" stroke="#111" stroke-width="1.2"/>
<line x1="150.3" x2="188.6" y1="982.3" y2="982.3" stroke="#111" stroke-width="1.2"/>
<line x1="150.3" x2="188.6" y1="1025.6" y2="1025.6" stroke="#111" stroke-width="1.2"/>
<line x1="150.3" x2="188.6" y1="1069.2" y2="1069.2" stroke="#111" stroke-width="1.2"/>
<line x1="150.3" x2="188.6" y1="1155.1" y2="1155.1" stroke="#111" stroke-width="1.2"/>
<line x1="150.3" x2="188.6" y1="1199.3" y2="1199.3" stroke="#111" stroke-width="1.2"/>
<line x1="150.3" x2="188.6" y1="1242.4" y2="1242.4" stroke="#111" stroke-width="1.2"/>
<line x1="150.3" x2="188.6" y1="1285.6" y2="1285.6" stroke="#111" stroke-width="1.2"/>
<rect x="150.3" y="895.1" width="38.3" height="434.2" fill="none" stroke="#000" stroke-width="1.3"/>
<text x="136.5" y="895.8" font-size="24.0" text-anchor="end" fill="#000">500</text>
<text x="136.5" y="938.7" font-size="24.0" text-anchor="end" fill="#000">400</text>
<text x="136.5" y="981.6" font-size="24.0" text-anchor="end" fill="#000">300</text>
<text x="136.5" y="1026.0" font-size="24.0" text-anchor="end" fill="#000">200</text>
<text x="136.5" y="1069.0" font-size="24.0" text-anchor="end" fill="#000">100</text>
<text x="136.5" y="1112.0" font-size="24.0" text-anchor="end" fill="#000">0</text>
<text x="136.5" y="1155.0" font-size="24.0" text-anchor="end" fill="#000">-100</text>
<text x="136.5" y="1198.0" font-size="24.0" text-anchor="end" fill="#000">-200</text>
<text x="136.5" y="1242.0" font-size="24.0" text-anchor="end" fill="#000">-300</text>
<text x="136.5" y="1285.0" font-size="24.0" text-anchor="end" fill="#000">-400</text>
<text x="136.5" y="1328.0" font-size="24.0" text-anchor="end" fill="#000">-500</text>
<text x="200.5" y="915.6" font-size="25.0" text-anchor="start" fill="#000">toward</text>
<text x="201.0" y="1326.8" font-size="24.0" text-anchor="start" fill="#000">away</text>
<text x="201.5" y="1107.3" font-size="24.0" text-anchor="start" fill="#000">10</text>
<text x="201.5" y="1137.6" font-size="24.0" text-anchor="start" fill="#000">-10</text>
<text x="299.5" y="985.0" font-size="32.5" text-anchor="start" fill="#000">Frequency</text>
<text x="255.0" y="1017.5" font-size="30.0" text-anchor="start" fill="#000">cvw</text>
<text x="320.5" y="1017.5" font-size="30.0" text-anchor="start" fill="#000">cve</text>
<text x="384.0" y="1017.5" font-size="30.0" text-anchor="start" fill="#000">fhw</text>
<text x="448.5" y="1017.5" font-size="30.0" text-anchor="start" fill="#000">fhe</text>
<path d="M264.1 1029.7 L264.1 1329.3 L302.0 1329.3 L302.0 1029.7 Z M264.1 1059.7 L302.0 1059.7 M264.1 1089.6 L302.0 1089.6 M264.1 1119.6 L302.0 1119.6 M264.1 1149.5 L302.0 1149.5 M264.1 1179.5 L302.0 1179.5 M264.1 1209.5 L302.0 1209.5 M264.1 1239.4 L302.0 1239.4 M264.1 1269.4 L302.0 1269.4 M264.1 1299.3 L302.0 1299.3" fill="none" stroke="#000" stroke-width="1.4"/>
<path d="M326.9 1029.7 L326.9 1329.3 L365.1 1329.3 L365.1 1029.7 Z M326.9 1059.7 L365.1 1059.7 M326.9 1089.6 L365.1 1089.6 M326.9 1119.6 L365.1 1119.6 M326.9 1149.5 L365.1 1149.5 M326.9 1179.5 L365.1 1179.5 M326.9 1209.5 L365.1 1209.5 M326.9 1239.4 L365.1 1239.4 M326.9 1269.4 L365.1 1269.4 M326.9 1299.3 L365.1 1299.3" fill="none" stroke="#000" stroke-width="1.4"/>
<path d="M390.0 1029.7 L390.0 1329.3 L428.0 1329.3 L428.0 1029.7 Z M390.0 1059.7 L428.0 1059.7 M390.0 1089.6 L428.0 1089.6 M390.0 1119.6 L428.0 1119.6 M390.0 1149.5 L428.0 1149.5 M390.0 1179.5 L428.0 1179.5 M390.0 1209.5 L428.0 1209.5 M390.0 1239.4 L428.0 1239.4 M390.0 1269.4 L428.0 1269.4 M390.0 1299.3 L428.0 1299.3" fill="none" stroke="#000" stroke-width="1.4"/>
<path d="M452.8 1029.7 L452.8 1329.3 L490.9 1329.3 L490.9 1029.7 Z M452.8 1059.7 L490.9 1059.7 M452.8 1089.6 L490.9 1089.6 M452.8 1119.6 L490.9 1119.6 M452.8 1149.5 L490.9 1149.5 M452.8 1179.5 L490.9 1179.5 M452.8 1209.5 L490.9 1209.5 M452.8 1239.4 L490.9 1239.4 M452.8 1269.4 L490.9 1269.4 M452.8 1299.3 L490.9 1299.3" fill="none" stroke="#000" stroke-width="1.4"/>
<text x="256.5" y="1041.2" font-size="22.0" text-anchor="end" fill="#000">18</text>
<text x="498.5" y="1041.2" font-size="22.0" text-anchor="start" fill="#000">18</text>
<text x="256.5" y="1071.2" font-size="22.0" text-anchor="end" fill="#000">17</text>
<text x="498.5" y="1071.2" font-size="22.0" text-anchor="start" fill="#000">17</text>
<text x="256.5" y="1101.1" font-size="22.0" text-anchor="end" fill="#000">16</text>
<text x="498.5" y="1101.1" font-size="22.0" text-anchor="start" fill="#000">16</text>
<text x="256.5" y="1131.1" font-size="22.0" text-anchor="end" fill="#000">15</text>
<text x="498.5" y="1131.1" font-size="22.0" text-anchor="start" fill="#000">15</text>
<text x="256.5" y="1161.0" font-size="22.0" text-anchor="end" fill="#000">14</text>
<text x="498.5" y="1161.0" font-size="22.0" text-anchor="start" fill="#000">14</text>
<text x="256.5" y="1191.0" font-size="22.0" text-anchor="end" fill="#000">13</text>
<text x="498.5" y="1191.0" font-size="22.0" text-anchor="start" fill="#000">13</text>
<text x="256.5" y="1221.0" font-size="22.0" text-anchor="end" fill="#000">12</text>
<text x="498.5" y="1221.0" font-size="22.0" text-anchor="start" fill="#000">12</text>
<text x="256.5" y="1250.9" font-size="22.0" text-anchor="end" fill="#000">11</text>
<text x="498.5" y="1250.9" font-size="22.0" text-anchor="start" fill="#000">11</text>
<text x="256.5" y="1280.9" font-size="22.0" text-anchor="end" fill="#000">10</text>
<text x="498.5" y="1280.9" font-size="22.0" text-anchor="start" fill="#000">10</text>
<text x="256.5" y="1310.8" font-size="22.0" text-anchor="end" fill="#000">9</text>
<text x="498.5" y="1310.8" font-size="22.0" text-anchor="start" fill="#000">9</text>
<text x="256.5" y="1340.8" font-size="22.0" text-anchor="end" fill="#000">8</text>
<text x="498.5" y="1340.8" font-size="22.0" text-anchor="start" fill="#000">8</text>
<rect x="258.4" y="1121.9" width="49.5" height="8.5" fill="#ff4000"/>
<rect x="321.0" y="1214.0" width="49.7" height="3.6" fill="#ff4000"/>
<rect x="384.0" y="1214.0" width="49.9" height="3.6" fill="#ff4000"/>
<rect x="447.2" y="1214.0" width="49.7" height="3.6" fill="#ff4000"/>
<rect x="447.2" y="1222.6" width="49.7" height="3.7" fill="#ff4000"/>
<rect x="453.8" y="1214.0" width="36.2" height="12.3" fill="#ff4000"/>
<text x="1001.0" y="1391.5" font-size="32.0" text-anchor="start" fill="#000">cvw</text>
<text x="1077.0" y="1391.5" font-size="32.0" text-anchor="start" fill="#000">cve</text>
<text x="1077.0" y="1419.0" font-size="32.0" text-anchor="start" fill="#ff00ff">b13</text>
<text x="1657.5" y="1395.2" font-size="32.0" text-anchor="start" fill="#000">fhw</text>
<text x="1727.5" y="1395.2" font-size="32.0" text-anchor="start" fill="#000">fhe</text>
<text x="1662.0" y="1422.8" font-size="32.0" text-anchor="start" fill="#ff00ff">b14</text>
<circle cx="1068" cy="1337.5" r="6.3" fill="#6e6e6e"/>
<circle cx="1719.75" cy="1341" r="7" fill="#6e6e6e"/>
<path d="M51 39.5 L350 39.5 M51.5 39 L51.5 151" stroke="#c8c8c8" stroke-width="1.2" fill="none"/>
<path d="M350 39.5 L1520 39.5" stroke="#8c8c8c" stroke-width="1" fill="none"/>
<path d="M2466.5 39 L2466.5 1473 M535 1472.5 L2467 1472.5" stroke="#ffffff" stroke-width="1.2" fill="none"/>
</g>
</svg></body></html>
